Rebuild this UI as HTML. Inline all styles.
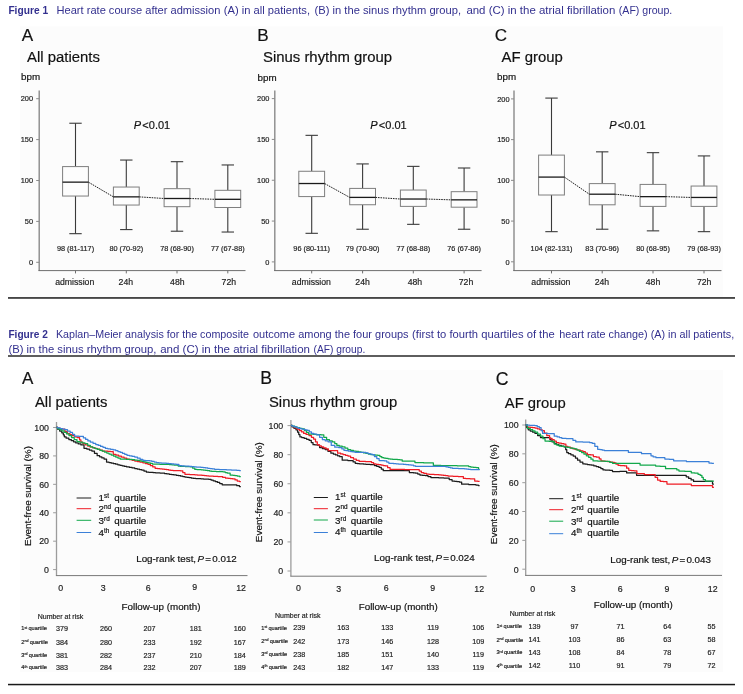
<!DOCTYPE html>
<html><head><meta charset="utf-8"><title>Figure</title>
<style>html,body{margin:0;padding:0;background:#fff;}body{width:743px;height:694px;overflow:hidden;font-family:'Liberation Sans', sans-serif;}svg{display:block;}text{font-family:'Liberation Sans', sans-serif;}</style>
</head><body>
<svg width="743" height="694" viewBox="0 0 743 694">
<defs><filter id="soft" x="0" y="0" width="743" height="694" filterUnits="userSpaceOnUse" color-interpolation-filters="sRGB"><feGaussianBlur stdDeviation="0.3"/></filter></defs>
<rect x="0" y="0" width="743" height="694" fill="#ffffff"/>
<g filter="url(#soft)">
<rect x="20" y="26.5" width="703" height="270.5" fill="#fcfcfc"/>
<rect x="20" y="370" width="703" height="302" fill="#fcfcfc"/>
<text x="8.4" y="13.6" font-size="10.6" fill="#33308f" font-weight="bold" textLength="39.7" lengthAdjust="spacingAndGlyphs">Figure 1</text>
<text x="56.5" y="13.6" font-size="10.6" fill="#33308f" textLength="163.9" lengthAdjust="spacingAndGlyphs">Heart rate course after admission</text>
<text x="223.8" y="13.6" font-size="10.6" fill="#33308f" textLength="86.2" lengthAdjust="spacingAndGlyphs">(A) in all patients,</text>
<text x="314.5" y="13.6" font-size="10.6" fill="#33308f" textLength="146.6" lengthAdjust="spacingAndGlyphs">(B) in the sinus rhythm group,</text>
<text x="466.4" y="13.6" font-size="10.6" fill="#33308f" textLength="148.9" lengthAdjust="spacingAndGlyphs">and (C) in the atrial fibrillation</text>
<text x="618.8" y="13.6" font-size="10.6" fill="#33308f" textLength="53.5" lengthAdjust="spacingAndGlyphs">(AF) group.</text>
<text x="8.4" y="337.8" font-size="10.6" fill="#33308f" font-weight="bold" textLength="39.4" lengthAdjust="spacingAndGlyphs">Figure 2</text>
<text x="55.9" y="337.8" font-size="10.6" fill="#33308f" textLength="193.1" lengthAdjust="spacingAndGlyphs">Kaplan–Meier analysis for the composite</text>
<text x="253" y="337.8" font-size="10.6" fill="#33308f" textLength="155.6" lengthAdjust="spacingAndGlyphs">outcome among the four groups</text>
<text x="412.1" y="337.8" font-size="10.6" fill="#33308f" textLength="142.6" lengthAdjust="spacingAndGlyphs">(first to fourth quartiles of the</text>
<text x="559.3" y="337.8" font-size="10.6" fill="#33308f" textLength="174.9" lengthAdjust="spacingAndGlyphs">heart rate change) (A) in all patients,</text>
<text x="8.4" y="353.2" font-size="10.6" fill="#33308f" textLength="148.1" lengthAdjust="spacingAndGlyphs">(B) in the sinus rhythm group,</text>
<text x="160.2" y="353.2" font-size="10.6" fill="#33308f" textLength="149.8" lengthAdjust="spacingAndGlyphs">and (C) in the atrial fibrillation</text>
<text x="313.5" y="353.2" font-size="10.6" fill="#33308f" textLength="51.8" lengthAdjust="spacingAndGlyphs">(AF) group.</text>
<rect x="8" y="297.2" width="727" height="1.5" fill="#1a1a1a"/>
<rect x="8" y="355.3" width="727" height="1.4" fill="#1a1a1a"/>
<rect x="8" y="683.8" width="727" height="1.5" fill="#1a1a1a"/>
<text x="21.7" y="41.4" font-size="17.1" text-anchor="start" fill="#111" stroke="#111" stroke-width="0.18" >A</text>
<text x="27" y="61.8" font-size="14.9" text-anchor="start" fill="#111" stroke="#111" stroke-width="0.18" >All patients</text>
<text x="21" y="79.8" font-size="9.8" text-anchor="start" fill="#111" stroke="#111" stroke-width="0.18" >bpm</text>
<line x1="39.2" y1="90.5" x2="39.2" y2="271" stroke="#8a8a8a" stroke-width="1.4"/>
<line x1="38.5" y1="270.6" x2="245.5" y2="270.6" stroke="#6e6e6e" stroke-width="1"/>
<line x1="36.2" y1="262.3" x2="39.2" y2="262.3" stroke="#8a8a8a" stroke-width="1"/>
<text x="33" y="265.0" font-size="7.4" text-anchor="end" fill="#222" stroke="#222" stroke-width="0.18" >0</text>
<line x1="36.2" y1="221.4" x2="39.2" y2="221.4" stroke="#8a8a8a" stroke-width="1"/>
<text x="33" y="224.1" font-size="7.4" text-anchor="end" fill="#222" stroke="#222" stroke-width="0.18" >50</text>
<line x1="36.2" y1="180.5" x2="39.2" y2="180.5" stroke="#8a8a8a" stroke-width="1"/>
<text x="33" y="183.2" font-size="7.4" text-anchor="end" fill="#222" stroke="#222" stroke-width="0.18" >100</text>
<line x1="36.2" y1="139.6" x2="39.2" y2="139.6" stroke="#8a8a8a" stroke-width="1"/>
<text x="33" y="142.3" font-size="7.4" text-anchor="end" fill="#222" stroke="#222" stroke-width="0.18" >150</text>
<line x1="36.2" y1="98.7" x2="39.2" y2="98.7" stroke="#8a8a8a" stroke-width="1"/>
<text x="33" y="101.4" font-size="7.4" text-anchor="end" fill="#222" stroke="#222" stroke-width="0.18" >200</text>
<line x1="75.5" y1="270.6" x2="75.5" y2="273.4" stroke="#6e6e6e" stroke-width="1"/>
<line x1="75.5" y1="123.24" x2="75.5" y2="166.59" stroke="#3a3a3a" stroke-width="1.1"/>
<line x1="75.5" y1="196.04" x2="75.5" y2="233.67" stroke="#3a3a3a" stroke-width="1.1"/>
<line x1="69.3" y1="123.24" x2="81.7" y2="123.24" stroke="#3a3a3a" stroke-width="1.1"/>
<line x1="69.3" y1="233.67" x2="81.7" y2="233.67" stroke="#3a3a3a" stroke-width="1.1"/>
<rect x="62.6" y="166.59" width="25.8" height="29.45" fill="#fdfdfd" stroke="#7e7e7e" stroke-width="1"/>
<line x1="62.6" y1="182.14" x2="88.4" y2="182.14" stroke="#1a1a1a" stroke-width="1.3"/>
<text x="75.5" y="251" font-size="7.3" text-anchor="middle" fill="#222" stroke="#222" stroke-width="0.18" >98 (81-117)</text>
<text x="74.7" y="284.5" font-size="8.7" text-anchor="middle" fill="#222" stroke="#222" stroke-width="0.18" >admission</text>
<line x1="126.3" y1="270.6" x2="126.3" y2="273.4" stroke="#6e6e6e" stroke-width="1"/>
<line x1="126.3" y1="160.05" x2="126.3" y2="187.04" stroke="#3a3a3a" stroke-width="1.1"/>
<line x1="126.3" y1="205.04" x2="126.3" y2="229.58" stroke="#3a3a3a" stroke-width="1.1"/>
<line x1="120.1" y1="160.05" x2="132.5" y2="160.05" stroke="#3a3a3a" stroke-width="1.1"/>
<line x1="120.1" y1="229.58" x2="132.5" y2="229.58" stroke="#3a3a3a" stroke-width="1.1"/>
<rect x="113.39999999999999" y="187.04" width="25.8" height="18.0" fill="#fdfdfd" stroke="#7e7e7e" stroke-width="1"/>
<line x1="113.39999999999999" y1="196.86" x2="139.2" y2="196.86" stroke="#1a1a1a" stroke-width="1.3"/>
<text x="126.3" y="251" font-size="7.3" text-anchor="middle" fill="#222" stroke="#222" stroke-width="0.18" >80 (70-92)</text>
<text x="125.8" y="284.5" font-size="8.7" text-anchor="middle" fill="#222" stroke="#222" stroke-width="0.18" >24h</text>
<line x1="177.0" y1="270.6" x2="177.0" y2="273.4" stroke="#6e6e6e" stroke-width="1"/>
<line x1="177.0" y1="161.69" x2="177.0" y2="188.68" stroke="#3a3a3a" stroke-width="1.1"/>
<line x1="177.0" y1="206.68" x2="177.0" y2="231.22" stroke="#3a3a3a" stroke-width="1.1"/>
<line x1="170.8" y1="161.69" x2="183.2" y2="161.69" stroke="#3a3a3a" stroke-width="1.1"/>
<line x1="170.8" y1="231.22" x2="183.2" y2="231.22" stroke="#3a3a3a" stroke-width="1.1"/>
<rect x="164.1" y="188.68" width="25.8" height="18.0" fill="#fdfdfd" stroke="#7e7e7e" stroke-width="1"/>
<line x1="164.1" y1="198.5" x2="189.9" y2="198.5" stroke="#1a1a1a" stroke-width="1.3"/>
<text x="177.0" y="251" font-size="7.3" text-anchor="middle" fill="#222" stroke="#222" stroke-width="0.18" >78 (68-90)</text>
<text x="177.3" y="284.5" font-size="8.7" text-anchor="middle" fill="#222" stroke="#222" stroke-width="0.18" >48h</text>
<line x1="227.8" y1="270.6" x2="227.8" y2="273.4" stroke="#6e6e6e" stroke-width="1"/>
<line x1="227.8" y1="164.96" x2="227.8" y2="190.32" stroke="#3a3a3a" stroke-width="1.1"/>
<line x1="227.8" y1="207.49" x2="227.8" y2="232.03" stroke="#3a3a3a" stroke-width="1.1"/>
<line x1="221.60000000000002" y1="164.96" x2="234.0" y2="164.96" stroke="#3a3a3a" stroke-width="1.1"/>
<line x1="221.60000000000002" y1="232.03" x2="234.0" y2="232.03" stroke="#3a3a3a" stroke-width="1.1"/>
<rect x="214.9" y="190.32" width="25.8" height="17.17" fill="#fdfdfd" stroke="#7e7e7e" stroke-width="1"/>
<line x1="214.9" y1="199.31" x2="240.70000000000002" y2="199.31" stroke="#1a1a1a" stroke-width="1.3"/>
<text x="227.8" y="251" font-size="7.3" text-anchor="middle" fill="#222" stroke="#222" stroke-width="0.18" >77 (67-88)</text>
<text x="228.8" y="284.5" font-size="8.7" text-anchor="middle" fill="#222" stroke="#222" stroke-width="0.18" >72h</text>
<line x1="88.4" y1="182.14" x2="113.39999999999999" y2="196.86" stroke="#222" stroke-width="1" stroke-dasharray="1.6 0.9"/>
<line x1="139.2" y1="196.86" x2="164.1" y2="198.5" stroke="#222" stroke-width="1" stroke-dasharray="1.6 0.9"/>
<line x1="189.9" y1="198.5" x2="214.9" y2="199.31" stroke="#222" stroke-width="1" stroke-dasharray="1.6 0.9"/>
<text x="152" y="128.9" font-size="11" text-anchor="middle" fill="#111" stroke="#111" stroke-width="0.18"><tspan font-style="italic">P</tspan><tspan dx="1.2">&lt;0.01</tspan></text>
<text x="257.2" y="41.4" font-size="17.1" text-anchor="start" fill="#111" stroke="#111" stroke-width="0.18" >B</text>
<text x="263" y="61.8" font-size="14.9" text-anchor="start" fill="#111" stroke="#111" stroke-width="0.18" >Sinus rhythm group</text>
<text x="257.5" y="80.5" font-size="9.8" text-anchor="start" fill="#111" stroke="#111" stroke-width="0.18" >bpm</text>
<line x1="274.8" y1="90.5" x2="274.8" y2="271" stroke="#8a8a8a" stroke-width="1.4"/>
<line x1="274.1" y1="270.6" x2="481.6" y2="270.6" stroke="#6e6e6e" stroke-width="1"/>
<line x1="271.8" y1="261.9" x2="274.8" y2="261.9" stroke="#8a8a8a" stroke-width="1"/>
<text x="269.4" y="264.6" font-size="7.4" text-anchor="end" fill="#222" stroke="#222" stroke-width="0.18" >0</text>
<line x1="271.8" y1="221.07" x2="274.8" y2="221.07" stroke="#8a8a8a" stroke-width="1"/>
<text x="269.4" y="223.77" font-size="7.4" text-anchor="end" fill="#222" stroke="#222" stroke-width="0.18" >50</text>
<line x1="271.8" y1="180.25" x2="274.8" y2="180.25" stroke="#8a8a8a" stroke-width="1"/>
<text x="269.4" y="182.95" font-size="7.4" text-anchor="end" fill="#222" stroke="#222" stroke-width="0.18" >100</text>
<line x1="271.8" y1="139.42" x2="274.8" y2="139.42" stroke="#8a8a8a" stroke-width="1"/>
<text x="269.4" y="142.12" font-size="7.4" text-anchor="end" fill="#222" stroke="#222" stroke-width="0.18" >150</text>
<line x1="271.8" y1="98.6" x2="274.8" y2="98.6" stroke="#8a8a8a" stroke-width="1"/>
<text x="269.4" y="101.3" font-size="7.4" text-anchor="end" fill="#222" stroke="#222" stroke-width="0.18" >200</text>
<line x1="311.7" y1="270.6" x2="311.7" y2="273.4" stroke="#6e6e6e" stroke-width="1"/>
<line x1="311.7" y1="135.34" x2="311.7" y2="171.27" stroke="#3a3a3a" stroke-width="1.1"/>
<line x1="311.7" y1="196.58" x2="311.7" y2="233.32" stroke="#3a3a3a" stroke-width="1.1"/>
<line x1="305.5" y1="135.34" x2="317.9" y2="135.34" stroke="#3a3a3a" stroke-width="1.1"/>
<line x1="305.5" y1="233.32" x2="317.9" y2="233.32" stroke="#3a3a3a" stroke-width="1.1"/>
<rect x="298.8" y="171.27" width="25.8" height="25.31" fill="#fdfdfd" stroke="#7e7e7e" stroke-width="1"/>
<line x1="298.8" y1="183.52" x2="324.59999999999997" y2="183.52" stroke="#1a1a1a" stroke-width="1.3"/>
<text x="311.7" y="251" font-size="7.3" text-anchor="middle" fill="#222" stroke="#222" stroke-width="0.18" >96 (80-111)</text>
<text x="311.4" y="284.5" font-size="8.7" text-anchor="middle" fill="#222" stroke="#222" stroke-width="0.18" >admission</text>
<line x1="362.6" y1="270.6" x2="362.6" y2="273.4" stroke="#6e6e6e" stroke-width="1"/>
<line x1="362.6" y1="163.92" x2="362.6" y2="188.41" stroke="#3a3a3a" stroke-width="1.1"/>
<line x1="362.6" y1="204.74" x2="362.6" y2="229.24" stroke="#3a3a3a" stroke-width="1.1"/>
<line x1="356.40000000000003" y1="163.92" x2="368.8" y2="163.92" stroke="#3a3a3a" stroke-width="1.1"/>
<line x1="356.40000000000003" y1="229.24" x2="368.8" y2="229.24" stroke="#3a3a3a" stroke-width="1.1"/>
<rect x="349.70000000000005" y="188.41" width="25.8" height="16.33" fill="#fdfdfd" stroke="#7e7e7e" stroke-width="1"/>
<line x1="349.70000000000005" y1="197.4" x2="375.5" y2="197.4" stroke="#1a1a1a" stroke-width="1.3"/>
<text x="362.6" y="251" font-size="7.3" text-anchor="middle" fill="#222" stroke="#222" stroke-width="0.18" >79 (70-90)</text>
<text x="362.6" y="284.5" font-size="8.7" text-anchor="middle" fill="#222" stroke="#222" stroke-width="0.18" >24h</text>
<line x1="413.3" y1="270.6" x2="413.3" y2="273.4" stroke="#6e6e6e" stroke-width="1"/>
<line x1="413.3" y1="166.37" x2="413.3" y2="190.05" stroke="#3a3a3a" stroke-width="1.1"/>
<line x1="413.3" y1="206.38" x2="413.3" y2="224.34" stroke="#3a3a3a" stroke-width="1.1"/>
<line x1="407.1" y1="166.37" x2="419.5" y2="166.37" stroke="#3a3a3a" stroke-width="1.1"/>
<line x1="407.1" y1="224.34" x2="419.5" y2="224.34" stroke="#3a3a3a" stroke-width="1.1"/>
<rect x="400.40000000000003" y="190.05" width="25.8" height="16.33" fill="#fdfdfd" stroke="#7e7e7e" stroke-width="1"/>
<line x1="400.40000000000003" y1="199.03" x2="426.2" y2="199.03" stroke="#1a1a1a" stroke-width="1.3"/>
<text x="413.3" y="251" font-size="7.3" text-anchor="middle" fill="#222" stroke="#222" stroke-width="0.18" >77 (68-88)</text>
<text x="414.9" y="284.5" font-size="8.7" text-anchor="middle" fill="#222" stroke="#222" stroke-width="0.18" >48h</text>
<line x1="464.1" y1="270.6" x2="464.1" y2="273.4" stroke="#6e6e6e" stroke-width="1"/>
<line x1="464.1" y1="168.0" x2="464.1" y2="191.68" stroke="#3a3a3a" stroke-width="1.1"/>
<line x1="464.1" y1="207.19" x2="464.1" y2="229.24" stroke="#3a3a3a" stroke-width="1.1"/>
<line x1="457.90000000000003" y1="168.0" x2="470.3" y2="168.0" stroke="#3a3a3a" stroke-width="1.1"/>
<line x1="457.90000000000003" y1="229.24" x2="470.3" y2="229.24" stroke="#3a3a3a" stroke-width="1.1"/>
<rect x="451.20000000000005" y="191.68" width="25.8" height="15.51" fill="#fdfdfd" stroke="#7e7e7e" stroke-width="1"/>
<line x1="451.20000000000005" y1="199.85" x2="477.0" y2="199.85" stroke="#1a1a1a" stroke-width="1.3"/>
<text x="464.1" y="251" font-size="7.3" text-anchor="middle" fill="#222" stroke="#222" stroke-width="0.18" >76 (67-86)</text>
<text x="466.0" y="284.5" font-size="8.7" text-anchor="middle" fill="#222" stroke="#222" stroke-width="0.18" >72h</text>
<line x1="324.59999999999997" y1="183.52" x2="349.70000000000005" y2="197.4" stroke="#222" stroke-width="1" stroke-dasharray="1.6 0.9"/>
<line x1="375.5" y1="197.4" x2="400.40000000000003" y2="199.03" stroke="#222" stroke-width="1" stroke-dasharray="1.6 0.9"/>
<line x1="426.2" y1="199.03" x2="451.20000000000005" y2="199.85" stroke="#222" stroke-width="1" stroke-dasharray="1.6 0.9"/>
<text x="388.5" y="128.9" font-size="11" text-anchor="middle" fill="#111" stroke="#111" stroke-width="0.18"><tspan font-style="italic">P</tspan><tspan dx="1.2">&lt;0.01</tspan></text>
<text x="494.7" y="41.4" font-size="17.1" text-anchor="start" fill="#111" stroke="#111" stroke-width="0.18" >C</text>
<text x="501.5" y="61.8" font-size="14.9" text-anchor="start" fill="#111" stroke="#111" stroke-width="0.18" >AF group</text>
<text x="497" y="80.4" font-size="9.8" text-anchor="start" fill="#111" stroke="#111" stroke-width="0.18" >bpm</text>
<line x1="514" y1="90.5" x2="514" y2="271" stroke="#8a8a8a" stroke-width="1.4"/>
<line x1="513.3" y1="270.6" x2="721.5" y2="270.6" stroke="#6e6e6e" stroke-width="1"/>
<line x1="511" y1="261.8" x2="514" y2="261.8" stroke="#8a8a8a" stroke-width="1"/>
<text x="509.5" y="264.5" font-size="7.4" text-anchor="end" fill="#222" stroke="#222" stroke-width="0.18" >0</text>
<line x1="511" y1="221.08" x2="514" y2="221.08" stroke="#8a8a8a" stroke-width="1"/>
<text x="509.5" y="223.78" font-size="7.4" text-anchor="end" fill="#222" stroke="#222" stroke-width="0.18" >50</text>
<line x1="511" y1="180.35" x2="514" y2="180.35" stroke="#8a8a8a" stroke-width="1"/>
<text x="509.5" y="183.05" font-size="7.4" text-anchor="end" fill="#222" stroke="#222" stroke-width="0.18" >100</text>
<line x1="511" y1="139.62" x2="514" y2="139.62" stroke="#8a8a8a" stroke-width="1"/>
<text x="509.5" y="142.32" font-size="7.4" text-anchor="end" fill="#222" stroke="#222" stroke-width="0.18" >150</text>
<line x1="511" y1="98.9" x2="514" y2="98.9" stroke="#8a8a8a" stroke-width="1"/>
<text x="509.5" y="101.6" font-size="7.4" text-anchor="end" fill="#222" stroke="#222" stroke-width="0.18" >200</text>
<line x1="551.5" y1="270.6" x2="551.5" y2="273.4" stroke="#6e6e6e" stroke-width="1"/>
<line x1="551.5" y1="98.09" x2="551.5" y2="155.1" stroke="#3a3a3a" stroke-width="1.1"/>
<line x1="551.5" y1="195.01" x2="551.5" y2="231.66" stroke="#3a3a3a" stroke-width="1.1"/>
<line x1="545.3" y1="98.09" x2="557.7" y2="98.09" stroke="#3a3a3a" stroke-width="1.1"/>
<line x1="545.3" y1="231.66" x2="557.7" y2="231.66" stroke="#3a3a3a" stroke-width="1.1"/>
<rect x="538.6" y="155.1" width="25.8" height="39.91" fill="#fdfdfd" stroke="#7e7e7e" stroke-width="1"/>
<line x1="538.6" y1="177.09" x2="564.4" y2="177.09" stroke="#1a1a1a" stroke-width="1.3"/>
<text x="551.5" y="251" font-size="7.3" text-anchor="middle" fill="#222" stroke="#222" stroke-width="0.18" >104 (82-131)</text>
<text x="550.9" y="284.5" font-size="8.7" text-anchor="middle" fill="#222" stroke="#222" stroke-width="0.18" >admission</text>
<line x1="602.2" y1="270.6" x2="602.2" y2="273.4" stroke="#6e6e6e" stroke-width="1"/>
<line x1="602.2" y1="151.84" x2="602.2" y2="183.61" stroke="#3a3a3a" stroke-width="1.1"/>
<line x1="602.2" y1="204.79" x2="602.2" y2="229.22" stroke="#3a3a3a" stroke-width="1.1"/>
<line x1="596.0" y1="151.84" x2="608.4000000000001" y2="151.84" stroke="#3a3a3a" stroke-width="1.1"/>
<line x1="596.0" y1="229.22" x2="608.4000000000001" y2="229.22" stroke="#3a3a3a" stroke-width="1.1"/>
<rect x="589.3000000000001" y="183.61" width="25.8" height="21.18" fill="#fdfdfd" stroke="#7e7e7e" stroke-width="1"/>
<line x1="589.3000000000001" y1="194.2" x2="615.1" y2="194.2" stroke="#1a1a1a" stroke-width="1.3"/>
<text x="602.2" y="251" font-size="7.3" text-anchor="middle" fill="#222" stroke="#222" stroke-width="0.18" >83 (70-96)</text>
<text x="601.9" y="284.5" font-size="8.7" text-anchor="middle" fill="#222" stroke="#222" stroke-width="0.18" >24h</text>
<line x1="653.0" y1="270.6" x2="653.0" y2="273.4" stroke="#6e6e6e" stroke-width="1"/>
<line x1="653.0" y1="152.66" x2="653.0" y2="184.42" stroke="#3a3a3a" stroke-width="1.1"/>
<line x1="653.0" y1="206.41" x2="653.0" y2="230.85" stroke="#3a3a3a" stroke-width="1.1"/>
<line x1="646.8" y1="152.66" x2="659.2" y2="152.66" stroke="#3a3a3a" stroke-width="1.1"/>
<line x1="646.8" y1="230.85" x2="659.2" y2="230.85" stroke="#3a3a3a" stroke-width="1.1"/>
<rect x="640.1" y="184.42" width="25.8" height="21.99" fill="#fdfdfd" stroke="#7e7e7e" stroke-width="1"/>
<line x1="640.1" y1="196.64" x2="665.9" y2="196.64" stroke="#1a1a1a" stroke-width="1.3"/>
<text x="653.0" y="251" font-size="7.3" text-anchor="middle" fill="#222" stroke="#222" stroke-width="0.18" >80 (68-95)</text>
<text x="653.0" y="284.5" font-size="8.7" text-anchor="middle" fill="#222" stroke="#222" stroke-width="0.18" >48h</text>
<line x1="704.0" y1="270.6" x2="704.0" y2="273.4" stroke="#6e6e6e" stroke-width="1"/>
<line x1="704.0" y1="155.92" x2="704.0" y2="186.05" stroke="#3a3a3a" stroke-width="1.1"/>
<line x1="704.0" y1="206.41" x2="704.0" y2="231.66" stroke="#3a3a3a" stroke-width="1.1"/>
<line x1="697.8" y1="155.92" x2="710.2" y2="155.92" stroke="#3a3a3a" stroke-width="1.1"/>
<line x1="697.8" y1="231.66" x2="710.2" y2="231.66" stroke="#3a3a3a" stroke-width="1.1"/>
<rect x="691.1" y="186.05" width="25.8" height="20.36" fill="#fdfdfd" stroke="#7e7e7e" stroke-width="1"/>
<line x1="691.1" y1="197.45" x2="716.9" y2="197.45" stroke="#1a1a1a" stroke-width="1.3"/>
<text x="704.0" y="251" font-size="7.3" text-anchor="middle" fill="#222" stroke="#222" stroke-width="0.18" >79 (68-93)</text>
<text x="704.2" y="284.5" font-size="8.7" text-anchor="middle" fill="#222" stroke="#222" stroke-width="0.18" >72h</text>
<line x1="564.4" y1="177.09" x2="589.3000000000001" y2="194.2" stroke="#222" stroke-width="1" stroke-dasharray="1.6 0.9"/>
<line x1="615.1" y1="194.2" x2="640.1" y2="196.64" stroke="#222" stroke-width="1" stroke-dasharray="1.6 0.9"/>
<line x1="665.9" y1="196.64" x2="691.1" y2="197.45" stroke="#222" stroke-width="1" stroke-dasharray="1.6 0.9"/>
<text x="627.4" y="128.9" font-size="11" text-anchor="middle" fill="#111" stroke="#111" stroke-width="0.18"><tspan font-style="italic">P</tspan><tspan dx="1.2">&lt;0.01</tspan></text>
<text x="22" y="384.2" font-size="17" text-anchor="start" fill="#111" stroke="#111" stroke-width="0.18" >A</text>
<text x="35" y="406.8" font-size="14.8" text-anchor="start" fill="#111" stroke="#111" stroke-width="0.18" >All patients</text>
<line x1="56.5" y1="422.0" x2="56.5" y2="575.6" stroke="#9c9c9c" stroke-width="1.3"/>
<line x1="55.9" y1="575.6" x2="247.5" y2="575.6" stroke="#787878" stroke-width="1"/>
<line x1="53.1" y1="427.5" x2="56.5" y2="427.5" stroke="#9c9c9c" stroke-width="1"/>
<text x="49" y="430.8" font-size="8.8" text-anchor="end" fill="#222" stroke="#222" stroke-width="0.18" >100</text>
<line x1="53.1" y1="455.92" x2="56.5" y2="455.92" stroke="#9c9c9c" stroke-width="1"/>
<text x="49" y="459.22" font-size="8.8" text-anchor="end" fill="#222" stroke="#222" stroke-width="0.18" >80</text>
<line x1="53.1" y1="484.34" x2="56.5" y2="484.34" stroke="#9c9c9c" stroke-width="1"/>
<text x="49" y="487.64" font-size="8.8" text-anchor="end" fill="#222" stroke="#222" stroke-width="0.18" >60</text>
<line x1="53.1" y1="512.76" x2="56.5" y2="512.76" stroke="#9c9c9c" stroke-width="1"/>
<text x="49" y="516.06" font-size="8.8" text-anchor="end" fill="#222" stroke="#222" stroke-width="0.18" >40</text>
<line x1="53.1" y1="541.18" x2="56.5" y2="541.18" stroke="#9c9c9c" stroke-width="1"/>
<text x="49" y="544.48" font-size="8.8" text-anchor="end" fill="#222" stroke="#222" stroke-width="0.18" >20</text>
<line x1="53.1" y1="569.6" x2="56.5" y2="569.6" stroke="#9c9c9c" stroke-width="1"/>
<text x="49" y="572.9" font-size="8.8" text-anchor="end" fill="#222" stroke="#222" stroke-width="0.18" >0</text>
<text transform="translate(30.5,496) rotate(-90)" font-size="9.9" text-anchor="middle" fill="#111" stroke="#111" stroke-width="0.18">Event-free survival (%)</text>
<path d="M56.5,427.4 L57.55,427.4 L57.55,429.2 L58.6,429.2 L59.65,429.2 L59.65,431.0 L60.7,431.0 L61.75,431.0 L61.75,432.8 L62.8,432.8 L63.3,432.8 L63.3,434.8 L63.8,434.8 L64.3,434.8 L64.3,436.8 L64.8,436.8 L66.15,436.8 L66.15,438.15 L67.5,438.15 L68.85,438.15 L68.85,439.5 L70.2,439.5 L71.32,439.5 L71.32,440.63 L72.43,440.63 L73.55,440.63 L73.55,441.77 L74.67,441.77 L75.78,441.77 L75.78,442.9 L76.9,442.9 L78.25,442.9 L78.25,443.9 L79.6,443.9 L80.95,443.9 L80.95,444.9 L82.3,444.9 L84.0,444.9 L84.0,448.3 L85.7,448.3 L86.93,448.3 L86.93,449.2 L88.17,449.2 L89.4,449.2 L89.4,450.1 L90.63,450.1 L91.87,450.1 L91.87,451.0 L93.1,451.0 L94.45,451.0 L94.45,453.35 L95.8,453.35 L97.15,453.35 L97.15,455.7 L98.5,455.7 L99.62,455.7 L99.62,456.8 L100.73,456.8 L101.85,456.8 L101.85,457.9 L102.97,457.9 L104.08,457.9 L104.08,459.0 L105.2,459.0 L106.55,459.0 L106.55,462.0 L107.9,462.0 L109.02,462.0 L109.02,462.57 L110.13,462.57 L111.25,462.57 L111.25,463.13 L112.37,463.13 L113.48,463.13 L113.48,463.7 L114.6,463.7 L115.68,463.7 L115.68,464.24 L116.76,464.24 L117.84,464.24 L117.84,464.78 L118.92,464.78 L120.0,464.78 L120.0,465.32 L121.08,465.32 L122.16,465.32 L122.16,465.86 L123.24,465.86 L124.32,465.86 L124.32,466.4 L125.4,466.4 L126.74,466.4 L126.74,466.92 L128.07,466.92 L129.41,466.92 L129.41,467.45 L130.75,467.45 L132.09,467.45 L132.09,467.98 L133.43,467.98 L134.76,467.98 L134.76,468.5 L136.1,468.5 L137.23,468.5 L137.23,469.03 L138.37,469.03 L139.5,469.03 L139.5,469.57 L140.63,469.57 L141.77,469.57 L141.77,470.1 L142.9,470.1 L144.07,470.1 L144.07,471.15 L145.25,471.15 L146.43,471.15 L146.43,472.2 L147.6,472.2 L148.73,472.2 L148.73,472.34 L149.86,472.34 L150.99,472.34 L150.99,472.49 L152.11,472.49 L153.24,472.49 L153.24,472.63 L154.37,472.63 L155.5,472.63 L155.5,472.77 L156.63,472.77 L157.76,472.77 L157.76,472.91 L158.89,472.91 L160.01,472.91 L160.01,473.06 L161.14,473.06 L162.27,473.06 L162.27,473.2 L163.4,473.2 L164.57,473.2 L164.57,473.55 L165.75,473.55 L166.92,473.55 L166.92,473.9 L168.1,473.9 L169.27,473.9 L169.27,474.25 L170.45,474.25 L171.62,474.25 L171.62,474.6 L172.8,474.6 L173.97,474.6 L173.97,474.95 L175.15,474.95 L176.32,474.95 L176.32,475.3 L177.5,475.3 L178.56,475.3 L178.56,475.73 L179.62,475.73 L180.69,475.73 L180.69,476.15 L181.75,476.15 L182.81,476.15 L182.81,476.57 L183.88,476.57 L184.94,476.57 L184.94,477.0 L186.0,477.0 L187.06,477.0 L187.06,477.35 L188.12,477.35 L189.19,477.35 L189.19,477.7 L190.25,477.7 L191.31,477.7 L191.31,478.05 L192.38,478.05 L193.44,478.05 L193.44,478.4 L194.5,478.4 L195.79,478.4 L195.79,478.55 L197.08,478.55 L198.38,478.55 L198.38,478.7 L199.67,478.7 L200.96,478.7 L200.96,478.85 L202.25,478.85 L203.54,478.85 L203.54,479.0 L204.83,479.0 L206.12,479.0 L206.12,479.15 L207.42,479.15 L208.71,479.15 L208.71,479.3 L210.0,479.3 L211.06,479.3 L211.06,480.07 L212.12,480.07 L213.19,480.07 L213.19,480.85 L214.25,480.85 L215.31,480.85 L215.31,481.62 L216.38,481.62 L217.44,481.62 L217.44,482.4 L218.5,482.4 L219.72,482.4 L219.72,483.6 L220.95,483.6 L222.18,483.6 L222.18,484.8 L223.4,484.8 L229.4,484.8 L229.4,484.8 L235.4,484.8 L236.75,484.8 L236.75,485.7 L238.1,485.7 L239.45,485.7 L239.45,486.6 L240.8,486.6" fill="none" stroke="#1c1c1c" stroke-width="1.25" stroke-linejoin="round"/>
<path d="M56.5,427.4 L57.67,427.4 L57.67,428.0 L58.83,428.0 L60.0,428.0 L60.0,428.6 L61.17,428.6 L62.33,428.6 L62.33,429.2 L63.5,429.2 L64.83,429.2 L64.83,431.35 L66.15,431.35 L67.47,431.35 L67.47,433.5 L68.8,433.5 L69.93,433.5 L69.93,434.6 L71.07,434.6 L72.2,434.6 L72.2,435.7 L73.33,435.7 L74.47,435.7 L74.47,436.8 L75.6,436.8 L77.25,436.8 L77.25,437.5 L78.9,437.5 L79.58,437.5 L79.58,439.85 L80.25,439.85 L80.92,439.85 L80.92,442.2 L81.6,442.2 L82.83,442.2 L82.83,443.53 L84.07,443.53 L85.3,443.53 L85.3,444.87 L86.53,444.87 L87.77,444.87 L87.77,446.2 L89.0,446.2 L90.13,446.2 L90.13,446.9 L91.27,446.9 L92.4,446.9 L92.4,447.6 L93.53,447.6 L94.67,447.6 L94.67,448.3 L95.8,448.3 L97.13,448.3 L97.13,449.2 L98.47,449.2 L99.8,449.2 L99.8,450.1 L101.13,450.1 L102.47,450.1 L102.47,451.0 L103.8,451.0 L105.15,451.0 L105.15,451.2 L106.5,451.2 L107.85,451.2 L107.85,451.4 L109.2,451.4 L110.55,451.4 L110.55,451.6 L111.9,451.6 L113.25,451.6 L113.25,454.3 L114.6,454.3 L115.95,454.3 L115.95,455.2 L117.3,455.2 L118.65,455.2 L118.65,456.1 L120.0,456.1 L121.35,456.1 L121.35,457.0 L122.7,457.0 L124.05,457.0 L124.05,458.0 L125.4,458.0 L126.75,458.0 L126.75,459.0 L128.1,459.0 L129.43,459.0 L129.43,459.67 L130.77,459.67 L132.1,459.67 L132.1,460.33 L133.43,460.33 L134.77,460.33 L134.77,461.0 L136.1,461.0 L137.45,461.0 L137.45,461.6 L138.8,461.6 L140.15,461.6 L140.15,462.2 L141.5,462.2 L142.85,462.2 L142.85,462.8 L144.2,462.8 L145.45,462.8 L145.45,463.55 L146.7,463.55 L147.95,463.55 L147.95,464.3 L149.2,464.3 L150.38,464.3 L150.38,465.63 L151.57,465.63 L152.75,465.63 L152.75,466.97 L153.93,466.97 L155.12,466.97 L155.12,468.3 L156.3,468.3 L157.48,468.3 L157.48,468.53 L158.67,468.53 L159.85,468.53 L159.85,468.77 L161.03,468.77 L162.22,468.77 L162.22,469.0 L163.4,469.0 L164.46,469.0 L164.46,469.35 L165.53,469.35 L166.59,469.35 L166.59,469.7 L167.65,469.7 L168.71,469.7 L168.71,470.05 L169.78,470.05 L170.84,470.05 L170.84,470.4 L171.9,470.4 L173.12,470.4 L173.12,470.5 L174.35,470.5 L175.58,470.5 L175.58,470.6 L176.8,470.6 L178.03,470.6 L178.03,470.7 L179.25,470.7 L180.47,470.7 L180.47,470.8 L181.7,470.8 L182.77,470.8 L182.77,472.55 L183.85,472.55 L184.93,472.55 L184.93,474.3 L186.0,474.3 L187.27,474.3 L187.27,474.44 L188.54,474.44 L189.81,474.44 L189.81,474.58 L191.08,474.58 L192.35,474.58 L192.35,474.72 L193.62,474.72 L194.89,474.72 L194.89,474.86 L196.16,474.86 L197.43,474.86 L197.43,475.0 L198.7,475.0 L199.83,475.0 L199.83,475.2 L200.96,475.2 L202.09,475.2 L202.09,475.4 L203.22,475.4 L204.35,475.4 L204.35,475.6 L205.48,475.6 L206.61,475.6 L206.61,475.8 L207.74,475.8 L208.87,475.8 L208.87,476.0 L210.0,476.0 L211.13,476.0 L211.13,476.14 L212.26,476.14 L213.39,476.14 L213.39,476.28 L214.52,476.28 L215.65,476.28 L215.65,476.42 L216.78,476.42 L217.91,476.42 L217.91,476.56 L219.04,476.56 L220.17,476.56 L220.17,476.7 L221.3,476.7 L222.73,476.7 L222.73,477.45 L224.15,477.45 L225.57,477.45 L225.57,478.2 L227.0,478.2 L228.17,478.2 L228.17,478.43 L229.33,478.43 L230.5,478.43 L230.5,478.67 L231.67,478.67 L232.83,478.67 L232.83,478.9 L234.0,478.9 L235.07,478.9 L235.07,479.95 L236.15,479.95 L237.23,479.95 L237.23,481.0 L238.3,481.0 L239.55,481.0 L239.55,481.5 L240.8,481.5" fill="none" stroke="#ee1c25" stroke-width="1.25" stroke-linejoin="round"/>
<path d="M56.5,427.4 L57.55,427.4 L57.55,428.53 L58.6,428.53 L59.65,428.53 L59.65,429.67 L60.7,429.67 L61.75,429.67 L61.75,430.8 L62.8,430.8 L64.03,430.8 L64.03,432.37 L65.27,432.37 L66.5,432.37 L66.5,433.93 L67.73,433.93 L68.97,433.93 L68.97,435.5 L70.2,435.5 L71.55,435.5 L71.55,437.5 L72.9,437.5 L74.25,437.5 L74.25,439.5 L75.6,439.5 L76.95,439.5 L76.95,441.5 L78.3,441.5 L79.63,441.5 L79.63,442.2 L80.97,442.2 L82.3,442.2 L82.3,442.9 L83.63,442.9 L84.97,442.9 L84.97,443.6 L86.3,443.6 L87.65,443.6 L87.65,445.25 L89.0,445.25 L90.35,445.25 L90.35,446.9 L91.7,446.9 L92.88,446.9 L92.88,447.75 L94.05,447.75 L95.23,447.75 L95.23,448.6 L96.4,448.6 L97.58,448.6 L97.58,449.45 L98.75,449.45 L99.92,449.45 L99.92,450.3 L101.1,450.3 L102.23,450.3 L102.23,451.2 L103.37,451.2 L104.5,451.2 L104.5,452.1 L105.63,452.1 L106.77,452.1 L106.77,453.0 L107.9,453.0 L109.02,453.0 L109.02,454.03 L110.13,454.03 L111.25,454.03 L111.25,455.07 L112.37,455.07 L113.48,455.07 L113.48,456.1 L114.6,456.1 L115.72,456.1 L115.72,457.07 L116.83,457.07 L117.95,457.07 L117.95,458.03 L119.07,458.03 L120.18,458.03 L120.18,459.0 L121.3,459.0 L126.05,459.0 L126.05,459.3 L130.8,459.3 L132.13,459.3 L132.13,459.67 L133.47,459.67 L134.8,459.67 L134.8,460.03 L136.13,460.03 L137.47,460.03 L137.47,460.4 L138.8,460.4 L139.83,460.4 L139.83,460.9 L140.87,460.9 L141.9,460.9 L141.9,461.4 L142.93,461.4 L143.97,461.4 L143.97,461.9 L145.0,461.9 L146.06,461.9 L146.06,462.42 L147.12,462.42 L148.19,462.42 L148.19,462.95 L149.25,462.95 L150.31,462.95 L150.31,463.48 L151.38,463.48 L152.44,463.48 L152.44,464.0 L153.5,464.0 L159.85,464.0 L159.85,464.3 L166.2,464.3 L167.33,464.3 L167.33,464.48 L168.46,464.48 L169.59,464.48 L169.59,464.66 L170.72,464.66 L171.85,464.66 L171.85,464.84 L172.98,464.84 L174.11,464.84 L174.11,465.02 L175.24,465.02 L176.37,465.02 L176.37,465.2 L177.5,465.2 L178.2,465.2 L178.2,466.1 L178.9,466.1 L180.17,466.1 L180.17,466.26 L181.44,466.26 L182.71,466.26 L182.71,466.42 L183.98,466.42 L185.25,466.42 L185.25,466.58 L186.52,466.58 L187.79,466.58 L187.79,466.74 L189.06,466.74 L190.33,466.74 L190.33,466.9 L191.6,466.9 L192.68,466.9 L192.68,468.15 L193.75,468.15 L194.82,468.15 L194.82,469.4 L195.9,469.4 L196.96,469.4 L196.96,469.55 L198.03,469.55 L199.09,469.55 L199.09,469.7 L200.15,469.7 L201.21,469.7 L201.21,469.85 L202.28,469.85 L203.34,469.85 L203.34,470.0 L204.4,470.0 L205.45,470.0 L205.45,470.35 L206.5,470.35 L207.55,470.35 L207.55,470.7 L208.6,470.7 L209.65,470.7 L209.65,471.05 L210.7,471.05 L211.75,471.05 L211.75,471.4 L212.8,471.4 L213.93,471.4 L213.93,471.48 L215.06,471.48 L216.19,471.48 L216.19,471.56 L217.32,471.56 L218.45,471.56 L218.45,471.64 L219.58,471.64 L220.71,471.64 L220.71,471.72 L221.84,471.72 L222.97,471.72 L222.97,471.8 L224.1,471.8 L225.18,471.8 L225.18,472.5 L226.25,472.5 L227.32,472.5 L227.32,473.2 L228.4,473.2 L230.15,473.2 L230.15,475.0 L231.9,475.0 L232.97,475.0 L232.97,475.33 L234.03,475.33 L235.1,475.33 L235.1,475.67 L236.17,475.67 L237.23,475.67 L237.23,476.0 L238.3,476.0 L239.55,476.0 L239.55,476.7 L240.8,476.7" fill="none" stroke="#12a84b" stroke-width="1.25" stroke-linejoin="round"/>
<path d="M56.5,427.4 L57.71,427.4 L57.71,427.97 L58.92,427.97 L60.14,427.97 L60.14,428.55 L61.35,428.55 L62.56,428.55 L62.56,429.12 L63.78,429.12 L64.99,429.12 L64.99,429.7 L66.2,429.7 L67.52,429.7 L67.52,431.05 L68.85,431.05 L70.17,431.05 L70.17,432.4 L71.5,432.4 L72.53,432.4 L72.53,434.3 L73.55,434.3 L74.57,434.3 L74.57,436.2 L75.6,436.2 L78.95,436.2 L78.95,436.4 L82.3,436.4 L83.42,436.4 L83.42,437.9 L84.53,437.9 L85.65,437.9 L85.65,439.4 L86.77,439.4 L87.88,439.4 L87.88,440.9 L89.0,440.9 L90.35,440.9 L90.35,442.1 L91.7,442.1 L93.05,442.1 L93.05,443.3 L94.4,443.3 L95.75,443.3 L95.75,444.5 L97.1,444.5 L98.27,444.5 L98.27,445.45 L99.45,445.45 L100.62,445.45 L100.62,446.4 L101.8,446.4 L102.98,446.4 L102.98,447.35 L104.15,447.35 L105.33,447.35 L105.33,448.3 L106.5,448.3 L107.85,448.3 L107.85,448.83 L109.2,448.83 L110.55,448.83 L110.55,449.37 L111.9,449.37 L113.25,449.37 L113.25,449.9 L114.6,449.9 L115.72,449.9 L115.72,450.7 L116.83,450.7 L117.95,450.7 L117.95,451.5 L119.07,451.5 L120.18,451.5 L120.18,452.3 L121.3,452.3 L122.43,452.3 L122.43,453.3 L123.57,453.3 L124.7,453.3 L124.7,454.3 L125.83,454.3 L126.97,454.3 L126.97,455.3 L128.1,455.3 L129.43,455.3 L129.43,455.87 L130.77,455.87 L132.1,455.87 L132.1,456.43 L133.43,456.43 L134.77,456.43 L134.77,457.0 L136.1,457.0 L137.45,457.0 L137.45,458.13 L138.8,458.13 L140.15,458.13 L140.15,459.27 L141.5,459.27 L142.85,459.27 L142.85,460.4 L144.2,460.4 L145.28,460.4 L145.28,460.57 L146.37,460.57 L147.45,460.57 L147.45,460.73 L148.53,460.73 L149.62,460.73 L149.62,460.9 L150.7,460.9 L151.87,460.9 L151.87,461.47 L153.03,461.47 L154.2,461.47 L154.2,462.03 L155.37,462.03 L156.53,462.03 L156.53,462.6 L157.7,462.6 L158.94,462.6 L158.94,462.81 L160.17,462.81 L161.41,462.81 L161.41,463.03 L162.65,463.03 L163.89,463.03 L163.89,463.24 L165.12,463.24 L166.36,463.24 L166.36,463.45 L167.6,463.45 L168.84,463.45 L168.84,463.66 L170.07,463.66 L171.31,463.66 L171.31,463.88 L172.55,463.88 L173.79,463.88 L173.79,464.09 L175.03,464.09 L176.26,464.09 L176.26,464.3 L177.5,464.3 L178.9,464.3 L178.9,465.7 L180.3,465.7 L181.57,465.7 L181.57,465.88 L182.84,465.88 L184.11,465.88 L184.11,466.06 L185.38,466.06 L186.65,466.06 L186.65,466.24 L187.92,466.24 L189.19,466.24 L189.19,466.42 L190.46,466.42 L191.73,466.42 L191.73,466.6 L193.0,466.6 L194.14,466.6 L194.14,466.8 L195.28,466.8 L196.42,466.8 L196.42,467.0 L197.56,467.0 L198.7,467.0 L198.7,467.2 L199.84,467.2 L200.98,467.2 L200.98,467.4 L202.12,467.4 L203.26,467.4 L203.26,467.6 L204.4,467.6 L205.53,467.6 L205.53,467.94 L206.66,467.94 L207.79,467.94 L207.79,468.28 L208.92,468.28 L210.05,468.28 L210.05,468.62 L211.18,468.62 L212.31,468.62 L212.31,468.96 L213.44,468.96 L214.57,468.96 L214.57,469.3 L215.7,469.3 L216.91,469.3 L216.91,469.4 L218.11,469.4 L219.32,469.4 L219.32,469.5 L220.53,469.5 L221.74,469.5 L221.74,469.6 L222.94,469.6 L224.15,469.6 L224.15,469.7 L225.36,469.7 L226.56,469.7 L226.56,469.8 L227.77,469.8 L228.98,469.8 L228.98,469.9 L230.19,469.9 L231.39,469.9 L231.39,470.0 L232.6,470.0 L233.97,470.0 L233.97,470.17 L235.33,470.17 L236.7,470.17 L236.7,470.33 L238.07,470.33 L239.43,470.33 L239.43,470.5 L240.8,470.5" fill="none" stroke="#3b80d8" stroke-width="1.25" stroke-linejoin="round"/>
<line x1="76.6" y1="498" x2="91.2" y2="498" stroke="#1c1c1c" stroke-width="1"/>
<text x="98.6" y="500.5" font-size="9.8" fill="#111" stroke="#111" stroke-width="0.18">1<tspan font-size="6.4" dy="-3">st</tspan></text>
<text x="114.2" y="500.5" font-size="9.8" text-anchor="start" fill="#111" stroke="#111" stroke-width="0.18" >quartile</text>
<line x1="76.6" y1="508.7" x2="91.2" y2="508.7" stroke="#ee1c25" stroke-width="1"/>
<text x="98.6" y="512.2" font-size="9.8" fill="#111" stroke="#111" stroke-width="0.18">2<tspan font-size="6.4" dy="-3">nd</tspan></text>
<text x="114.2" y="512.2" font-size="9.8" text-anchor="start" fill="#111" stroke="#111" stroke-width="0.18" >quartile</text>
<line x1="76.6" y1="520.3" x2="91.2" y2="520.3" stroke="#12a84b" stroke-width="1"/>
<text x="98.6" y="523.9" font-size="9.8" fill="#111" stroke="#111" stroke-width="0.18">3<tspan font-size="6.4" dy="-3">rd</tspan></text>
<text x="114.2" y="523.9" font-size="9.8" text-anchor="start" fill="#111" stroke="#111" stroke-width="0.18" >quartile</text>
<line x1="76.6" y1="532.5" x2="91.2" y2="532.5" stroke="#3b80d8" stroke-width="1"/>
<text x="98.6" y="535.6" font-size="9.8" fill="#111" stroke="#111" stroke-width="0.18">4<tspan font-size="6.4" dy="-3">th</tspan></text>
<text x="114.2" y="535.6" font-size="9.8" text-anchor="start" fill="#111" stroke="#111" stroke-width="0.18" >quartile</text>
<text x="136.2" y="561.7" font-size="9.8" fill="#111" stroke="#111" stroke-width="0.18">Log-rank test,<tspan font-style="italic" dx="1.5">P</tspan><tspan dx="1.2">=</tspan><tspan dx="1.2">0.012</tspan></text>
<text x="60.8" y="591" font-size="8.8" text-anchor="middle" fill="#222" stroke="#222" stroke-width="0.18" >0</text>
<text x="103.3" y="590.8" font-size="8.8" text-anchor="middle" fill="#222" stroke="#222" stroke-width="0.18" >3</text>
<text x="148.3" y="590.8" font-size="8.8" text-anchor="middle" fill="#222" stroke="#222" stroke-width="0.18" >6</text>
<text x="194.8" y="589.7" font-size="8.8" text-anchor="middle" fill="#222" stroke="#222" stroke-width="0.18" >9</text>
<text x="241.1" y="590.7" font-size="8.8" text-anchor="middle" fill="#222" stroke="#222" stroke-width="0.18" >12</text>
<text x="161" y="610.4" font-size="9.8" text-anchor="middle" fill="#111" stroke="#111" stroke-width="0.18" >Follow-up (month)</text>
<text x="37.7" y="618.5" font-size="7" text-anchor="start" fill="#222" stroke="#222" stroke-width="0.18" >Number at risk</text>
<text x="21.3" y="630.3" font-size="5.6" fill="#222" stroke="#222" stroke-width="0.18">1<tspan font-size="3.6" dy="-1.8">st</tspan><tspan dy="1.8" dx="1.2">quartile</tspan></text>
<text x="62" y="631.1" font-size="7.2" text-anchor="middle" fill="#222" stroke="#222" stroke-width="0.18" >379</text>
<text x="106" y="631.1" font-size="7.2" text-anchor="middle" fill="#222" stroke="#222" stroke-width="0.18" >260</text>
<text x="149.6" y="631.1" font-size="7.2" text-anchor="middle" fill="#222" stroke="#222" stroke-width="0.18" >207</text>
<text x="195.8" y="631.1" font-size="7.2" text-anchor="middle" fill="#222" stroke="#222" stroke-width="0.18" >181</text>
<text x="239.8" y="631.1" font-size="7.2" text-anchor="middle" fill="#222" stroke="#222" stroke-width="0.18" >160</text>
<text x="21.3" y="643.7" font-size="5.6" fill="#222" stroke="#222" stroke-width="0.18">2<tspan font-size="3.6" dy="-1.8">nd</tspan><tspan dy="1.8" dx="1.2">quartile</tspan></text>
<text x="62" y="644.5" font-size="7.2" text-anchor="middle" fill="#222" stroke="#222" stroke-width="0.18" >384</text>
<text x="106" y="644.5" font-size="7.2" text-anchor="middle" fill="#222" stroke="#222" stroke-width="0.18" >280</text>
<text x="149.6" y="644.5" font-size="7.2" text-anchor="middle" fill="#222" stroke="#222" stroke-width="0.18" >233</text>
<text x="195.8" y="644.5" font-size="7.2" text-anchor="middle" fill="#222" stroke="#222" stroke-width="0.18" >192</text>
<text x="239.8" y="644.5" font-size="7.2" text-anchor="middle" fill="#222" stroke="#222" stroke-width="0.18" >167</text>
<text x="21.3" y="657.1" font-size="5.6" fill="#222" stroke="#222" stroke-width="0.18">3<tspan font-size="3.6" dy="-1.8">rd</tspan><tspan dy="1.8" dx="1.2">quartile</tspan></text>
<text x="62" y="657.9" font-size="7.2" text-anchor="middle" fill="#222" stroke="#222" stroke-width="0.18" >381</text>
<text x="106" y="657.9" font-size="7.2" text-anchor="middle" fill="#222" stroke="#222" stroke-width="0.18" >282</text>
<text x="149.6" y="657.9" font-size="7.2" text-anchor="middle" fill="#222" stroke="#222" stroke-width="0.18" >237</text>
<text x="195.8" y="657.9" font-size="7.2" text-anchor="middle" fill="#222" stroke="#222" stroke-width="0.18" >210</text>
<text x="239.8" y="657.9" font-size="7.2" text-anchor="middle" fill="#222" stroke="#222" stroke-width="0.18" >184</text>
<text x="21.3" y="669.4" font-size="5.6" fill="#222" stroke="#222" stroke-width="0.18">4<tspan font-size="3.6" dy="-1.8">th</tspan><tspan dy="1.8" dx="1.2">quartile</tspan></text>
<text x="62" y="670.2" font-size="7.2" text-anchor="middle" fill="#222" stroke="#222" stroke-width="0.18" >383</text>
<text x="106" y="670.2" font-size="7.2" text-anchor="middle" fill="#222" stroke="#222" stroke-width="0.18" >284</text>
<text x="149.6" y="670.2" font-size="7.2" text-anchor="middle" fill="#222" stroke="#222" stroke-width="0.18" >232</text>
<text x="195.8" y="670.2" font-size="7.2" text-anchor="middle" fill="#222" stroke="#222" stroke-width="0.18" >207</text>
<text x="239.8" y="670.2" font-size="7.2" text-anchor="middle" fill="#222" stroke="#222" stroke-width="0.18" >189</text>
<text x="260.3" y="383.8" font-size="17.6" text-anchor="start" fill="#111" stroke="#111" stroke-width="0.18" >B</text>
<text x="269" y="407.4" font-size="14.8" text-anchor="start" fill="#111" stroke="#111" stroke-width="0.18" >Sinus rhythm group</text>
<line x1="290.9" y1="420.1" x2="290.9" y2="576.2" stroke="#9c9c9c" stroke-width="1.3"/>
<line x1="290.29999999999995" y1="576.2" x2="486.7" y2="576.2" stroke="#787878" stroke-width="1"/>
<line x1="287.5" y1="425.6" x2="290.9" y2="425.6" stroke="#9c9c9c" stroke-width="1"/>
<text x="283.2" y="428.9" font-size="8.8" text-anchor="end" fill="#222" stroke="#222" stroke-width="0.18" >100</text>
<line x1="287.5" y1="454.68" x2="290.9" y2="454.68" stroke="#9c9c9c" stroke-width="1"/>
<text x="283.2" y="457.98" font-size="8.8" text-anchor="end" fill="#222" stroke="#222" stroke-width="0.18" >80</text>
<line x1="287.5" y1="483.76" x2="290.9" y2="483.76" stroke="#9c9c9c" stroke-width="1"/>
<text x="283.2" y="487.06" font-size="8.8" text-anchor="end" fill="#222" stroke="#222" stroke-width="0.18" >60</text>
<line x1="287.5" y1="512.84" x2="290.9" y2="512.84" stroke="#9c9c9c" stroke-width="1"/>
<text x="283.2" y="516.14" font-size="8.8" text-anchor="end" fill="#222" stroke="#222" stroke-width="0.18" >40</text>
<line x1="287.5" y1="541.92" x2="290.9" y2="541.92" stroke="#9c9c9c" stroke-width="1"/>
<text x="283.2" y="545.22" font-size="8.8" text-anchor="end" fill="#222" stroke="#222" stroke-width="0.18" >20</text>
<line x1="287.5" y1="571.0" x2="290.9" y2="571.0" stroke="#9c9c9c" stroke-width="1"/>
<text x="283.2" y="574.3" font-size="8.8" text-anchor="end" fill="#222" stroke="#222" stroke-width="0.18" >0</text>
<text transform="translate(262,492.2) rotate(-90)" font-size="9.9" text-anchor="middle" fill="#111" stroke="#111" stroke-width="0.18">Event-free survival (%)</text>
<path d="M290.9,425.3 L291.92,425.3 L291.92,426.8 L292.93,426.8 L293.95,426.8 L293.95,428.3 L294.97,428.3 L295.98,428.3 L295.98,429.8 L297.0,429.8 L297.58,429.8 L297.58,432.17 L298.17,432.17 L298.75,432.17 L298.75,434.53 L299.33,434.53 L299.92,434.53 L299.92,436.9 L300.5,436.9 L301.73,436.9 L301.73,437.6 L302.95,437.6 L304.17,437.6 L304.17,438.3 L305.4,438.3 L306.65,438.3 L306.65,439.35 L307.9,439.35 L309.15,439.35 L309.15,440.4 L310.4,440.4 L311.27,440.4 L311.27,442.55 L312.15,442.55 L313.02,442.55 L313.02,444.7 L313.9,444.7 L314.97,444.7 L314.97,444.9 L316.05,444.9 L317.12,444.9 L317.12,445.1 L318.2,445.1 L319.6,445.1 L319.6,447.5 L321.0,447.5 L322.4,447.5 L322.4,448.55 L323.8,448.55 L325.2,448.55 L325.2,449.6 L326.6,449.6 L328.03,449.6 L328.03,451.4 L329.45,451.4 L330.88,451.4 L330.88,453.2 L332.3,453.2 L333.36,453.2 L333.36,454.07 L334.43,454.07 L335.49,454.07 L335.49,454.95 L336.55,454.95 L337.61,454.95 L337.61,455.82 L338.68,455.82 L339.74,455.82 L339.74,456.7 L340.8,456.7 L342.2,456.7 L342.2,460.2 L343.6,460.2 L347.85,460.2 L347.85,460.5 L352.1,460.5 L353.15,460.5 L353.15,461.9 L354.2,461.9 L355.25,461.9 L355.25,463.3 L356.3,463.3 L357.36,463.3 L357.36,463.52 L358.43,463.52 L359.49,463.52 L359.49,463.75 L360.55,463.75 L361.61,463.75 L361.61,463.98 L362.68,463.98 L363.74,463.98 L363.74,464.2 L364.8,464.2 L365.86,464.2 L365.86,464.32 L366.93,464.32 L367.99,464.32 L367.99,464.45 L369.05,464.45 L370.11,464.45 L370.11,464.57 L371.18,464.57 L372.24,464.57 L372.24,464.7 L373.3,464.7 L374.47,464.7 L374.47,465.57 L375.63,465.57 L376.8,465.57 L376.8,466.43 L377.97,466.43 L379.13,466.43 L379.13,467.3 L380.3,467.3 L381.27,467.3 L381.27,469.0 L382.25,469.0 L383.23,469.0 L383.23,470.7 L384.2,470.7 L396.25,470.7 L396.25,470.7 L408.3,470.7 L409.35,470.7 L409.35,472.5 L410.4,472.5 L411.45,472.5 L411.45,472.73 L412.5,472.73 L413.55,472.73 L413.55,472.97 L414.6,472.97 L415.65,472.97 L415.65,473.2 L416.7,473.2 L417.78,473.2 L417.78,474.1 L418.85,474.1 L419.93,474.1 L419.93,475.0 L421.0,475.0 L422.4,475.0 L422.4,475.3 L423.8,475.3 L425.2,475.3 L425.2,475.6 L426.6,475.6 L428.03,475.6 L428.03,476.55 L429.45,476.55 L430.88,476.55 L430.88,477.5 L432.3,477.5 L433.59,477.5 L433.59,477.62 L434.88,477.62 L436.18,477.62 L436.18,477.73 L437.47,477.73 L438.76,477.73 L438.76,477.85 L440.05,477.85 L441.34,477.85 L441.34,477.97 L442.63,477.97 L443.93,477.97 L443.93,478.08 L445.22,478.08 L446.51,478.08 L446.51,478.2 L447.8,478.2 L449.22,478.2 L449.22,479.6 L450.65,479.6 L452.07,479.6 L452.07,481.0 L453.5,481.0 L454.68,481.0 L454.68,481.33 L455.87,481.33 L457.05,481.33 L457.05,481.67 L458.23,481.67 L459.42,481.67 L459.42,482.0 L460.6,482.0 L461.65,482.0 L461.65,484.2 L462.7,484.2 L468.7,484.2 L468.7,484.5 L474.7,484.5 L475.92,484.5 L475.92,485.0 L477.15,485.0 L478.38,485.0 L478.38,485.5 L479.6,485.5" fill="none" stroke="#1c1c1c" stroke-width="1.25" stroke-linejoin="round"/>
<path d="M290.9,425.3 L292.15,425.3 L292.15,426.57 L293.4,426.57 L294.65,426.57 L294.65,427.83 L295.9,427.83 L297.15,427.83 L297.15,429.1 L298.4,429.1 L299.45,429.1 L299.45,430.53 L300.5,430.53 L301.55,430.53 L301.55,431.97 L302.6,431.97 L303.65,431.97 L303.65,433.4 L304.7,433.4 L306.12,433.4 L306.12,434.45 L307.55,434.45 L308.97,434.45 L308.97,435.5 L310.4,435.5 L311.45,435.5 L311.45,437.25 L312.5,437.25 L313.55,437.25 L313.55,439.0 L314.6,439.0 L315.5,439.0 L315.5,441.85 L316.4,441.85 L317.3,441.85 L317.3,444.7 L318.2,444.7 L319.25,444.7 L319.25,445.75 L320.3,445.75 L321.35,445.75 L321.35,446.8 L322.4,446.8 L323.62,446.8 L323.62,447.85 L324.85,447.85 L326.07,447.85 L326.07,448.9 L327.3,448.9 L328.4,448.9 L328.4,450.6 L329.5,450.6 L332.65,450.6 L332.65,450.6 L335.8,450.6 L337.6,450.6 L337.6,453.2 L339.4,453.2 L340.62,453.2 L340.62,453.9 L341.85,453.9 L343.07,453.9 L343.07,454.6 L344.3,454.6 L345.52,454.6 L345.52,455.3 L346.75,455.3 L347.97,455.3 L347.97,456.0 L349.2,456.0 L350.62,456.0 L350.62,457.55 L352.05,457.55 L353.47,457.55 L353.47,459.1 L354.9,459.1 L356.32,459.1 L356.32,460.25 L357.75,460.25 L359.18,460.25 L359.18,461.4 L360.6,461.4 L365.5,461.4 L365.5,461.6 L370.4,461.6 L371.47,461.6 L371.47,462.7 L372.55,462.7 L373.62,462.7 L373.62,463.8 L374.7,463.8 L376.03,463.8 L376.03,464.25 L377.35,464.25 L378.68,464.25 L378.68,464.7 L380.0,464.7 L381.07,464.7 L381.07,465.1 L382.13,465.1 L383.2,465.1 L383.2,465.5 L384.27,465.5 L385.33,465.5 L385.33,465.9 L386.4,465.9 L387.62,465.9 L387.62,467.65 L388.85,467.65 L390.07,467.65 L390.07,469.4 L391.3,469.4 L404.75,469.4 L404.75,469.7 L418.2,469.7 L419.25,469.7 L419.25,471.1 L420.3,471.1 L421.35,471.1 L421.35,472.5 L422.4,472.5 L423.8,472.5 L423.8,473.35 L425.2,473.35 L426.6,473.35 L426.6,474.2 L428.0,474.2 L429.24,474.2 L429.24,474.3 L430.48,474.3 L431.71,474.3 L431.71,474.4 L432.95,474.4 L434.19,474.4 L434.19,474.5 L435.42,474.5 L436.66,474.5 L436.66,474.6 L437.9,474.6 L439.03,474.6 L439.03,474.88 L440.16,474.88 L441.29,474.88 L441.29,475.16 L442.42,475.16 L443.55,475.16 L443.55,475.44 L444.68,475.44 L445.81,475.44 L445.81,475.72 L446.94,475.72 L448.07,475.72 L448.07,476.0 L449.2,476.0 L450.48,476.0 L450.48,476.14 L451.76,476.14 L453.04,476.14 L453.04,476.28 L454.32,476.28 L455.6,476.28 L455.6,476.42 L456.88,476.42 L458.16,476.42 L458.16,476.56 L459.44,476.56 L460.72,476.56 L460.72,476.7 L462.0,476.7 L463.4,476.7 L463.4,478.4 L464.8,478.4 L465.86,478.4 L465.86,478.52 L466.93,478.52 L467.99,478.52 L467.99,478.65 L469.05,478.65 L470.11,478.65 L470.11,478.77 L471.18,478.77 L472.24,478.77 L472.24,478.9 L473.3,478.9 L474.7,478.9 L474.7,481.0 L476.1,481.0 L477.85,481.0 L477.85,481.3 L479.6,481.3" fill="none" stroke="#ee1c25" stroke-width="1.25" stroke-linejoin="round"/>
<path d="M290.9,425.3 L292.15,425.3 L292.15,426.1 L293.4,426.1 L294.65,426.1 L294.65,426.9 L295.9,426.9 L297.15,426.9 L297.15,427.7 L298.4,427.7 L299.62,427.7 L299.62,428.25 L300.85,428.25 L302.07,428.25 L302.07,428.8 L303.3,428.8 L304.37,428.8 L304.37,430.57 L305.43,430.57 L306.5,430.57 L306.5,432.33 L307.57,432.33 L308.63,432.33 L308.63,434.1 L309.7,434.1 L310.97,434.1 L310.97,434.24 L312.24,434.24 L313.51,434.24 L313.51,434.38 L314.78,434.38 L316.05,434.38 L316.05,434.52 L317.32,434.52 L318.59,434.52 L318.59,434.66 L319.86,434.66 L321.13,434.66 L321.13,434.8 L322.4,434.8 L323.8,434.8 L323.8,437.25 L325.2,437.25 L326.6,437.25 L326.6,439.7 L328.0,439.7 L329.43,439.7 L329.43,440.75 L330.85,440.75 L332.27,440.75 L332.27,441.8 L333.7,441.8 L334.75,441.8 L334.75,443.6 L335.8,443.6 L336.85,443.6 L336.85,445.4 L337.9,445.4 L339.32,445.4 L339.32,446.1 L340.75,446.1 L342.18,446.1 L342.18,446.8 L343.6,446.8 L345.0,446.8 L345.0,448.2 L346.4,448.2 L347.8,448.2 L347.8,449.6 L349.2,449.6 L350.62,449.6 L350.62,450.3 L352.05,450.3 L353.47,450.3 L353.47,451.0 L354.9,451.0 L356.14,451.0 L356.14,451.48 L357.38,451.48 L358.61,451.48 L358.61,451.95 L359.85,451.95 L361.09,451.95 L361.09,452.42 L362.32,452.42 L363.56,452.42 L363.56,452.9 L364.8,452.9 L365.98,452.9 L365.98,453.47 L367.17,453.47 L368.35,453.47 L368.35,454.03 L369.53,454.03 L370.72,454.03 L370.72,454.6 L371.9,454.6 L373.07,454.6 L373.07,454.83 L374.23,454.83 L375.4,454.83 L375.4,455.07 L376.57,455.07 L377.73,455.07 L377.73,455.3 L378.9,455.3 L379.88,455.3 L379.88,456.5 L380.85,456.5 L381.82,456.5 L381.82,457.7 L382.8,457.7 L383.86,457.7 L383.86,458.05 L384.93,458.05 L385.99,458.05 L385.99,458.4 L387.05,458.4 L388.11,458.4 L388.11,458.75 L389.18,458.75 L390.24,458.75 L390.24,459.1 L391.3,459.1 L392.54,459.1 L392.54,459.28 L393.77,459.28 L395.01,459.28 L395.01,459.45 L396.25,459.45 L397.49,459.45 L397.49,459.62 L398.73,459.62 L399.96,459.62 L399.96,459.8 L401.2,459.8 L402.25,459.8 L402.25,461.2 L403.3,461.2 L408.6,461.2 L408.6,461.2 L413.9,461.2 L414.95,461.2 L414.95,462.6 L416.0,462.6 L423.8,462.6 L423.8,462.9 L431.6,462.9 L433.35,462.9 L433.35,465.4 L435.1,465.4 L436.26,465.4 L436.26,465.44 L437.42,465.44 L438.58,465.44 L438.58,465.47 L439.74,465.47 L440.9,465.47 L440.9,465.51 L442.06,465.51 L443.23,465.51 L443.23,465.54 L444.39,465.54 L445.55,465.54 L445.55,465.58 L446.71,465.58 L447.87,465.58 L447.87,465.61 L449.03,465.61 L450.19,465.61 L450.19,465.65 L451.35,465.65 L452.51,465.65 L452.51,465.69 L453.67,465.69 L454.83,465.69 L454.83,465.72 L455.99,465.72 L457.15,465.72 L457.15,465.76 L458.31,465.76 L459.48,465.76 L459.48,465.79 L460.64,465.79 L461.8,465.79 L461.8,465.83 L462.96,465.83 L464.12,465.83 L464.12,465.86 L465.28,465.86 L466.44,465.86 L466.44,465.9 L467.6,465.9 L468.68,465.9 L468.68,466.5 L469.75,466.5 L470.82,466.5 L470.82,467.1 L471.9,467.1 L473.3,467.1 L473.3,467.35 L474.7,467.35 L476.1,467.35 L476.1,467.6 L477.5,467.6 L478.55,467.6 L478.55,469.3 L479.6,469.3" fill="none" stroke="#12a84b" stroke-width="1.25" stroke-linejoin="round"/>
<path d="M290.9,425.3 L292.01,425.3 L292.01,426.07 L293.12,426.07 L294.24,426.07 L294.24,426.85 L295.35,426.85 L296.46,426.85 L296.46,427.62 L297.57,427.62 L298.69,427.62 L298.69,428.4 L299.8,428.4 L300.86,428.4 L300.86,428.88 L301.93,428.88 L302.99,428.88 L302.99,429.35 L304.05,429.35 L305.11,429.35 L305.11,429.82 L306.18,429.82 L307.24,429.82 L307.24,430.3 L308.3,430.3 L309.35,430.3 L309.35,431.85 L310.4,431.85 L311.45,431.85 L311.45,433.4 L312.5,433.4 L313.93,433.4 L313.93,434.1 L315.35,434.1 L316.77,434.1 L316.77,434.8 L318.2,434.8 L319.6,434.8 L319.6,437.25 L321.0,437.25 L322.4,437.25 L322.4,439.7 L323.8,439.7 L325.22,439.7 L325.22,440.75 L326.65,440.75 L328.07,440.75 L328.07,441.8 L329.5,441.8 L331.25,441.8 L331.25,445.4 L333.0,445.4 L334.75,445.4 L334.75,447.2 L336.5,447.2 L338.65,447.2 L338.65,447.5 L340.8,447.5 L341.85,447.5 L341.85,448.9 L342.9,448.9 L343.95,448.9 L343.95,450.3 L345.0,450.3 L346.13,450.3 L346.13,450.72 L347.26,450.72 L348.39,450.72 L348.39,451.14 L349.52,451.14 L350.65,451.14 L350.65,451.56 L351.78,451.56 L352.91,451.56 L352.91,451.98 L354.04,451.98 L355.17,451.98 L355.17,452.4 L356.3,452.4 L360.55,452.4 L360.55,452.4 L364.8,452.4 L365.86,452.4 L365.86,452.95 L366.93,452.95 L367.99,452.95 L367.99,453.5 L369.05,453.5 L370.11,453.5 L370.11,454.05 L371.18,454.05 L372.24,454.05 L372.24,454.6 L373.3,454.6 L374.47,454.6 L374.47,456.57 L375.63,456.57 L376.8,456.57 L376.8,458.53 L377.97,458.53 L379.13,458.53 L379.13,460.5 L380.3,460.5 L381.65,460.5 L381.65,460.7 L383.0,460.7 L384.35,460.7 L384.35,460.9 L385.7,460.9 L386.75,460.9 L386.75,462.1 L387.8,462.1 L388.85,462.1 L388.85,463.3 L389.9,463.3 L391.14,463.3 L391.14,463.48 L392.38,463.48 L393.61,463.48 L393.61,463.65 L394.85,463.65 L396.09,463.65 L396.09,463.82 L397.32,463.82 L398.56,463.82 L398.56,464.0 L399.8,464.0 L401.07,464.0 L401.07,464.24 L402.34,464.24 L403.61,464.24 L403.61,464.48 L404.88,464.48 L406.15,464.48 L406.15,464.72 L407.42,464.72 L408.69,464.72 L408.69,464.96 L409.96,464.96 L411.23,464.96 L411.23,465.2 L412.5,465.2 L413.55,465.2 L413.55,465.8 L414.6,465.8 L415.65,465.8 L415.65,466.4 L416.7,466.4 L430.85,466.4 L430.85,466.4 L445.0,466.4 L446.06,466.4 L446.06,466.88 L447.12,466.88 L448.19,466.88 L448.19,467.35 L449.25,467.35 L450.31,467.35 L450.31,467.82 L451.38,467.82 L452.44,467.82 L452.44,468.3 L453.5,468.3 L458.45,468.3 L458.45,468.5 L463.4,468.5 L464.46,468.5 L464.46,468.8 L465.52,468.8 L466.59,468.8 L466.59,469.1 L467.65,469.1 L468.71,469.1 L468.71,469.4 L469.77,469.4 L470.84,469.4 L470.84,469.7 L471.9,469.7 L475.75,469.7 L475.75,469.7 L479.6,469.7" fill="none" stroke="#3b80d8" stroke-width="1.25" stroke-linejoin="round"/>
<line x1="313.8" y1="497.5" x2="327.9" y2="497.5" stroke="#1c1c1c" stroke-width="1"/>
<text x="335.1" y="500.3" font-size="9.8" fill="#111" stroke="#111" stroke-width="0.18">1<tspan font-size="6.4" dy="-3">st</tspan></text>
<text x="350.7" y="500.3" font-size="9.8" text-anchor="start" fill="#111" stroke="#111" stroke-width="0.18" >quartile</text>
<line x1="313.8" y1="508.7" x2="327.9" y2="508.7" stroke="#ee1c25" stroke-width="1"/>
<text x="335.1" y="512.0" font-size="9.8" fill="#111" stroke="#111" stroke-width="0.18">2<tspan font-size="6.4" dy="-3">nd</tspan></text>
<text x="350.7" y="512.0" font-size="9.8" text-anchor="start" fill="#111" stroke="#111" stroke-width="0.18" >quartile</text>
<line x1="313.8" y1="520" x2="327.9" y2="520" stroke="#12a84b" stroke-width="1"/>
<text x="335.1" y="523.7" font-size="9.8" fill="#111" stroke="#111" stroke-width="0.18">3<tspan font-size="6.4" dy="-3">rd</tspan></text>
<text x="350.7" y="523.7" font-size="9.8" text-anchor="start" fill="#111" stroke="#111" stroke-width="0.18" >quartile</text>
<line x1="313.8" y1="532.5" x2="327.9" y2="532.5" stroke="#3b80d8" stroke-width="1"/>
<text x="335.1" y="535.4" font-size="9.8" fill="#111" stroke="#111" stroke-width="0.18">4<tspan font-size="6.4" dy="-3">th</tspan></text>
<text x="350.7" y="535.4" font-size="9.8" text-anchor="start" fill="#111" stroke="#111" stroke-width="0.18" >quartile</text>
<text x="374.1" y="561.2" font-size="9.8" fill="#111" stroke="#111" stroke-width="0.18">Log-rank test,<tspan font-style="italic" dx="1.5">P</tspan><tspan dx="1.2">=</tspan><tspan dx="1.2">0.024</tspan></text>
<text x="298.5" y="590.8" font-size="8.8" text-anchor="middle" fill="#222" stroke="#222" stroke-width="0.18" >0</text>
<text x="338.8" y="591.5" font-size="8.8" text-anchor="middle" fill="#222" stroke="#222" stroke-width="0.18" >3</text>
<text x="386.2" y="591.1" font-size="8.8" text-anchor="middle" fill="#222" stroke="#222" stroke-width="0.18" >6</text>
<text x="432.8" y="591.1" font-size="8.8" text-anchor="middle" fill="#222" stroke="#222" stroke-width="0.18" >9</text>
<text x="479.2" y="591.6" font-size="8.8" text-anchor="middle" fill="#222" stroke="#222" stroke-width="0.18" >12</text>
<text x="398.2" y="609.6" font-size="9.8" text-anchor="middle" fill="#111" stroke="#111" stroke-width="0.18" >Follow-up (month)</text>
<text x="275" y="617.9" font-size="7" text-anchor="start" fill="#222" stroke="#222" stroke-width="0.18" >Number at risk</text>
<text x="261.3" y="629.5" font-size="5.6" fill="#222" stroke="#222" stroke-width="0.18">1<tspan font-size="3.6" dy="-1.8">st</tspan><tspan dy="1.8" dx="1.2">quartile</tspan></text>
<text x="299.3" y="630.3" font-size="7.2" text-anchor="middle" fill="#222" stroke="#222" stroke-width="0.18" >239</text>
<text x="343.3" y="630.3" font-size="7.2" text-anchor="middle" fill="#222" stroke="#222" stroke-width="0.18" >163</text>
<text x="387.2" y="630.3" font-size="7.2" text-anchor="middle" fill="#222" stroke="#222" stroke-width="0.18" >133</text>
<text x="433" y="630.3" font-size="7.2" text-anchor="middle" fill="#222" stroke="#222" stroke-width="0.18" >119</text>
<text x="478.3" y="630.3" font-size="7.2" text-anchor="middle" fill="#222" stroke="#222" stroke-width="0.18" >106</text>
<text x="261.3" y="643.0" font-size="5.6" fill="#222" stroke="#222" stroke-width="0.18">2<tspan font-size="3.6" dy="-1.8">nd</tspan><tspan dy="1.8" dx="1.2">quartile</tspan></text>
<text x="299.3" y="643.8" font-size="7.2" text-anchor="middle" fill="#222" stroke="#222" stroke-width="0.18" >242</text>
<text x="343.3" y="643.8" font-size="7.2" text-anchor="middle" fill="#222" stroke="#222" stroke-width="0.18" >173</text>
<text x="387.2" y="643.8" font-size="7.2" text-anchor="middle" fill="#222" stroke="#222" stroke-width="0.18" >146</text>
<text x="433" y="643.8" font-size="7.2" text-anchor="middle" fill="#222" stroke="#222" stroke-width="0.18" >128</text>
<text x="478.3" y="643.8" font-size="7.2" text-anchor="middle" fill="#222" stroke="#222" stroke-width="0.18" >109</text>
<text x="261.3" y="655.8" font-size="5.6" fill="#222" stroke="#222" stroke-width="0.18">3<tspan font-size="3.6" dy="-1.8">rd</tspan><tspan dy="1.8" dx="1.2">quartile</tspan></text>
<text x="299.3" y="656.6" font-size="7.2" text-anchor="middle" fill="#222" stroke="#222" stroke-width="0.18" >238</text>
<text x="343.3" y="656.6" font-size="7.2" text-anchor="middle" fill="#222" stroke="#222" stroke-width="0.18" >185</text>
<text x="387.2" y="656.6" font-size="7.2" text-anchor="middle" fill="#222" stroke="#222" stroke-width="0.18" >151</text>
<text x="433" y="656.6" font-size="7.2" text-anchor="middle" fill="#222" stroke="#222" stroke-width="0.18" >140</text>
<text x="478.3" y="656.6" font-size="7.2" text-anchor="middle" fill="#222" stroke="#222" stroke-width="0.18" >119</text>
<text x="261.3" y="668.7" font-size="5.6" fill="#222" stroke="#222" stroke-width="0.18">4<tspan font-size="3.6" dy="-1.8">th</tspan><tspan dy="1.8" dx="1.2">quartile</tspan></text>
<text x="299.3" y="669.5" font-size="7.2" text-anchor="middle" fill="#222" stroke="#222" stroke-width="0.18" >243</text>
<text x="343.3" y="669.5" font-size="7.2" text-anchor="middle" fill="#222" stroke="#222" stroke-width="0.18" >182</text>
<text x="387.2" y="669.5" font-size="7.2" text-anchor="middle" fill="#222" stroke="#222" stroke-width="0.18" >147</text>
<text x="433" y="669.5" font-size="7.2" text-anchor="middle" fill="#222" stroke="#222" stroke-width="0.18" >133</text>
<text x="478.3" y="669.5" font-size="7.2" text-anchor="middle" fill="#222" stroke="#222" stroke-width="0.18" >119</text>
<text x="495.8" y="384.6" font-size="17.6" text-anchor="start" fill="#111" stroke="#111" stroke-width="0.18" >C</text>
<text x="504.8" y="408.1" font-size="14.8" text-anchor="start" fill="#111" stroke="#111" stroke-width="0.18" >AF group</text>
<line x1="525.7" y1="419.5" x2="525.7" y2="575.4" stroke="#9c9c9c" stroke-width="1.3"/>
<line x1="525.1" y1="575.4" x2="722" y2="575.4" stroke="#787878" stroke-width="1"/>
<line x1="522.3000000000001" y1="425.0" x2="525.7" y2="425.0" stroke="#9c9c9c" stroke-width="1"/>
<text x="518.6" y="428.3" font-size="8.8" text-anchor="end" fill="#222" stroke="#222" stroke-width="0.18" >100</text>
<line x1="522.3000000000001" y1="453.84" x2="525.7" y2="453.84" stroke="#9c9c9c" stroke-width="1"/>
<text x="518.6" y="457.14" font-size="8.8" text-anchor="end" fill="#222" stroke="#222" stroke-width="0.18" >80</text>
<line x1="522.3000000000001" y1="482.68" x2="525.7" y2="482.68" stroke="#9c9c9c" stroke-width="1"/>
<text x="518.6" y="485.98" font-size="8.8" text-anchor="end" fill="#222" stroke="#222" stroke-width="0.18" >60</text>
<line x1="522.3000000000001" y1="511.52" x2="525.7" y2="511.52" stroke="#9c9c9c" stroke-width="1"/>
<text x="518.6" y="514.82" font-size="8.8" text-anchor="end" fill="#222" stroke="#222" stroke-width="0.18" >40</text>
<line x1="522.3000000000001" y1="540.36" x2="525.7" y2="540.36" stroke="#9c9c9c" stroke-width="1"/>
<text x="518.6" y="543.66" font-size="8.8" text-anchor="end" fill="#222" stroke="#222" stroke-width="0.18" >20</text>
<line x1="522.3000000000001" y1="569.2" x2="525.7" y2="569.2" stroke="#9c9c9c" stroke-width="1"/>
<text x="518.6" y="572.5" font-size="8.8" text-anchor="end" fill="#222" stroke="#222" stroke-width="0.18" >0</text>
<text transform="translate(496.5,494.2) rotate(-90)" font-size="9.9" text-anchor="middle" fill="#111" stroke="#111" stroke-width="0.18">Event-free survival (%)</text>
<path d="M525.6,424.9 L526.48,424.9 L526.48,427.35 L527.35,427.35 L528.23,427.35 L528.23,429.8 L529.1,429.8 L530.28,429.8 L530.28,431.0 L531.47,431.0 L532.65,431.0 L532.65,432.2 L533.83,432.2 L535.02,432.2 L535.02,433.4 L536.2,433.4 L537.62,433.4 L537.62,435.5 L539.05,435.5 L540.48,435.5 L540.48,437.6 L541.9,437.6 L545.4,437.6 L545.4,437.6 L548.9,437.6 L549.97,437.6 L549.97,439.75 L551.05,439.75 L552.12,439.75 L552.12,441.9 L553.2,441.9 L554.25,441.9 L554.25,443.3 L555.3,443.3 L556.35,443.3 L556.35,444.7 L557.4,444.7 L558.7,444.7 L558.7,445.4 L560.0,445.4 L561.3,445.4 L561.3,446.1 L562.6,446.1 L563.9,446.1 L563.9,446.8 L565.2,446.8 L565.73,446.8 L565.73,449.65 L566.25,449.65 L566.77,449.65 L566.77,452.5 L567.3,452.5 L568.48,452.5 L568.48,453.67 L569.67,453.67 L570.85,453.67 L570.85,454.83 L572.03,454.83 L573.22,454.83 L573.22,456.0 L574.4,456.0 L575.45,456.0 L575.45,458.1 L576.5,458.1 L577.55,458.1 L577.55,460.2 L578.6,460.2 L580.0,460.2 L580.0,462.0 L581.4,462.0 L582.8,462.0 L582.8,463.8 L584.2,463.8 L585.26,463.8 L585.26,464.15 L586.33,464.15 L587.39,464.15 L587.39,464.5 L588.45,464.5 L589.51,464.5 L589.51,464.85 L590.58,464.85 L591.64,464.85 L591.64,465.2 L592.7,465.2 L593.88,465.2 L593.88,465.9 L595.07,465.9 L596.25,465.9 L596.25,466.6 L597.43,466.6 L598.62,466.6 L598.62,467.3 L599.8,467.3 L600.85,467.3 L600.85,468.55 L601.9,468.55 L602.95,468.55 L602.95,469.8 L604.0,469.8 L605.18,469.8 L605.18,470.0 L606.37,470.0 L607.55,470.0 L607.55,470.2 L608.73,470.2 L609.92,470.2 L609.92,470.4 L611.1,470.4 L612.5,470.4 L612.5,471.5 L613.9,471.5 L619.75,471.5 L619.75,471.4 L625.6,471.4 L626.65,471.4 L626.65,472.9 L627.7,472.9 L631.25,472.9 L631.25,472.9 L634.8,472.9 L636.55,472.9 L636.55,475.3 L638.3,475.3 L661.65,475.3 L661.65,475.3 L685.0,475.3 L686.23,475.3 L686.23,476.85 L687.45,476.85 L688.67,476.85 L688.67,478.4 L689.9,478.4 L691.12,478.4 L691.12,479.9 L692.35,479.9 L693.57,479.9 L693.57,481.4 L694.8,481.4 L702.95,481.4 L702.95,481.4 L711.1,481.4 L712.5,481.4 L712.5,484.1 L713.9,484.1" fill="none" stroke="#1c1c1c" stroke-width="1.25" stroke-linejoin="round"/>
<path d="M525.6,424.9 L527.35,424.9 L527.35,427.0 L529.1,427.0 L530.28,427.0 L530.28,427.33 L531.47,427.33 L532.65,427.33 L532.65,427.67 L533.83,427.67 L535.02,427.67 L535.02,428.0 L536.2,428.0 L537.38,428.0 L537.38,428.83 L538.57,428.83 L539.75,428.83 L539.75,429.67 L540.93,429.67 L542.12,429.67 L542.12,430.5 L543.3,430.5 L544.35,430.5 L544.35,433.1 L545.4,433.1 L546.8,433.1 L546.8,435.7 L548.2,435.7 L549.6,435.7 L549.6,438.3 L551.0,438.3 L552.07,438.3 L552.07,439.73 L553.13,439.73 L554.2,439.73 L554.2,441.17 L555.27,441.17 L556.33,441.17 L556.33,442.6 L557.4,442.6 L558.7,442.6 L558.7,443.07 L560.0,443.07 L561.3,443.07 L561.3,443.53 L562.6,443.53 L563.9,443.53 L563.9,444.0 L565.2,444.0 L565.9,444.0 L565.9,446.4 L566.6,446.4 L567.9,446.4 L567.9,447.23 L569.2,447.23 L570.5,447.23 L570.5,448.07 L571.8,448.07 L573.1,448.07 L573.1,448.9 L574.4,448.9 L575.62,448.9 L575.62,449.55 L576.85,449.55 L578.07,449.55 L578.07,450.2 L579.3,450.2 L580.52,450.2 L580.52,450.85 L581.75,450.85 L582.98,450.85 L582.98,451.5 L584.2,451.5 L585.28,451.5 L585.28,453.05 L586.35,453.05 L587.42,453.05 L587.42,454.6 L588.5,454.6 L590.6,454.6 L590.6,454.9 L592.7,454.9 L593.4,454.9 L593.4,456.7 L594.1,456.7 L596.25,456.7 L596.25,457.0 L598.4,457.0 L599.27,457.0 L599.27,458.95 L600.15,458.95 L601.02,458.95 L601.02,460.9 L601.9,460.9 L603.1,460.9 L603.1,461.18 L604.3,461.18 L605.5,461.18 L605.5,461.46 L606.7,461.46 L607.9,461.46 L607.9,461.74 L609.1,461.74 L610.3,461.74 L610.3,462.02 L611.5,462.02 L612.7,462.02 L612.7,462.3 L613.9,462.3 L614.45,462.3 L614.45,462.9 L615.0,462.9 L616.05,462.9 L616.05,464.15 L617.1,464.15 L618.15,464.15 L618.15,465.4 L619.2,465.4 L620.27,465.4 L620.27,465.57 L621.33,465.57 L622.4,465.57 L622.4,465.73 L623.47,465.73 L624.53,465.73 L624.53,465.9 L625.6,465.9 L626.65,465.9 L626.65,468.15 L627.7,468.15 L628.75,468.15 L628.75,470.4 L629.8,470.4 L631.22,470.4 L631.22,470.6 L632.65,470.6 L634.08,470.6 L634.08,470.8 L635.5,470.8 L636.9,470.8 L636.9,473.6 L638.3,473.6 L640.8,473.6 L640.8,473.6 L643.3,473.6 L644.35,473.6 L644.35,474.6 L645.4,474.6 L649.65,474.6 L649.65,474.6 L653.9,474.6 L655.12,474.6 L655.12,477.3 L656.35,477.3 L657.57,477.3 L657.57,480.0 L658.8,480.0 L660.2,480.0 L660.2,481.4 L661.6,481.4 L663.4,481.4 L663.4,481.7 L665.2,481.7 L666.95,481.7 L666.95,484.1 L668.7,484.1 L679.65,484.1 L679.65,484.1 L690.6,484.1 L691.3,484.1 L691.3,485.5 L692.0,485.5 L701.55,485.5 L701.55,485.5 L711.1,485.5 L712.5,485.5 L712.5,487.3 L713.9,487.3" fill="none" stroke="#ee1c25" stroke-width="1.25" stroke-linejoin="round"/>
<path d="M525.6,424.9 L527.35,424.9 L527.35,428.4 L529.1,428.4 L530.28,428.4 L530.28,429.6 L531.47,429.6 L532.65,429.6 L532.65,430.8 L533.83,430.8 L535.02,430.8 L535.02,432.0 L536.2,432.0 L537.62,432.0 L537.62,434.1 L539.05,434.1 L540.48,434.1 L540.48,436.2 L541.9,436.2 L542.95,436.2 L542.95,438.65 L544.0,438.65 L545.05,438.65 L545.05,441.1 L546.1,441.1 L549.3,441.1 L549.3,441.4 L552.5,441.4 L554.25,441.4 L554.25,444.0 L556.0,444.0 L557.05,444.0 L557.05,445.05 L558.1,445.05 L559.15,445.05 L559.15,446.1 L560.2,446.1 L561.62,446.1 L561.62,446.45 L563.05,446.45 L564.48,446.45 L564.48,446.8 L565.9,446.8 L567.14,446.8 L567.14,447.32 L568.38,447.32 L569.61,447.32 L569.61,447.85 L570.85,447.85 L572.09,447.85 L572.09,448.38 L573.32,448.38 L574.56,448.38 L574.56,448.9 L575.8,448.9 L576.97,448.9 L576.97,450.1 L578.13,450.1 L579.3,450.1 L579.3,451.3 L580.47,451.3 L581.63,451.3 L581.63,452.5 L582.8,452.5 L583.98,452.5 L583.98,454.13 L585.17,454.13 L586.35,454.13 L586.35,455.77 L587.53,455.77 L588.72,455.77 L588.72,457.4 L589.9,457.4 L590.95,457.4 L590.95,459.15 L592.0,459.15 L593.05,459.15 L593.05,460.9 L594.1,460.9 L595.28,460.9 L595.28,460.98 L596.47,460.98 L597.65,460.98 L597.65,461.07 L598.83,461.07 L600.02,461.07 L600.02,461.15 L601.2,461.15 L602.38,461.15 L602.38,461.23 L603.57,461.23 L604.75,461.23 L604.75,461.32 L605.93,461.32 L607.12,461.32 L607.12,461.4 L608.3,461.4 L609.7,461.4 L609.7,462.35 L611.1,462.35 L612.5,462.35 L612.5,463.3 L613.9,463.3 L626.45,463.3 L626.45,463.3 L639.0,463.3 L640.05,463.3 L640.05,465.0 L641.1,465.0 L647.85,465.0 L647.85,465.2 L654.6,465.2 L655.65,465.2 L655.65,466.1 L656.7,466.1 L660.25,466.1 L660.25,466.4 L663.8,466.4 L665.55,466.4 L665.55,468.7 L667.3,468.7 L671.55,468.7 L671.55,468.7 L675.8,468.7 L676.85,468.7 L676.85,469.9 L677.9,469.9 L678.95,469.9 L678.95,471.1 L680.0,471.1 L684.95,471.1 L684.95,471.4 L689.9,471.4 L691.3,471.4 L691.3,472.9 L692.7,472.9 L694.85,472.9 L694.85,473.2 L697.0,473.2 L698.05,473.2 L698.05,474.25 L699.1,474.25 L700.15,474.25 L700.15,475.3 L701.2,475.3 L701.9,475.3 L701.9,477.45 L702.6,477.45 L703.3,477.45 L703.3,479.6 L704.0,479.6 L705.45,479.6 L705.45,481.0 L706.9,481.0 L710.4,481.0 L710.4,481.0 L713.9,481.0" fill="none" stroke="#12a84b" stroke-width="1.25" stroke-linejoin="round"/>
<path d="M525.6,424.9 L526.92,424.9 L526.92,425.07 L528.25,425.07 L529.58,425.07 L529.58,425.25 L530.9,425.25 L532.23,425.25 L532.23,425.43 L533.55,425.43 L534.88,425.43 L534.88,425.6 L536.2,425.6 L537.25,425.6 L537.25,426.65 L538.3,426.65 L539.35,426.65 L539.35,427.7 L540.4,427.7 L541.12,427.7 L541.12,430.55 L541.85,430.55 L542.57,430.55 L542.57,433.4 L543.3,433.4 L547.9,433.4 L547.9,433.7 L552.5,433.7 L554.25,433.7 L554.25,436.2 L556.0,436.2 L557.17,436.2 L557.17,436.9 L558.33,436.9 L559.5,436.9 L559.5,437.6 L560.67,437.6 L561.83,437.6 L561.83,438.3 L563.0,438.3 L564.06,438.3 L564.06,438.4 L565.12,438.4 L566.19,438.4 L566.19,438.5 L567.25,438.5 L568.31,438.5 L568.31,438.6 L569.38,438.6 L570.44,438.6 L570.44,438.7 L571.5,438.7 L572.92,438.7 L572.92,440.3 L574.35,440.3 L575.78,440.3 L575.78,441.9 L577.2,441.9 L582.85,441.9 L582.85,442.1 L588.5,442.1 L589.73,442.1 L589.73,442.7 L590.95,442.7 L592.17,442.7 L592.17,443.3 L593.4,443.3 L594.83,443.3 L594.83,446.3 L596.25,446.3 L597.67,446.3 L597.67,449.3 L599.1,449.3 L600.15,449.3 L600.15,449.73 L601.2,449.73 L602.25,449.73 L602.25,450.17 L603.3,450.17 L604.35,450.17 L604.35,450.6 L605.4,450.6 L616.55,450.6 L616.55,450.6 L627.7,450.6 L628.4,450.6 L628.4,452.4 L629.1,452.4 L634.75,452.4 L634.75,452.4 L640.4,452.4 L641.5,452.4 L641.5,453.7 L642.6,453.7 L646.45,453.7 L646.45,453.7 L650.3,453.7 L651.0,453.7 L651.0,455.8 L651.7,455.8 L653.12,455.8 L653.12,456.75 L654.55,456.75 L655.98,456.75 L655.98,457.7 L657.4,457.7 L660.6,457.7 L660.6,457.7 L663.8,457.7 L664.85,457.7 L664.85,459.1 L665.9,459.1 L669.4,459.1 L669.4,459.4 L672.9,459.4 L673.65,459.4 L673.65,460.8 L674.4,460.8 L680.05,460.8 L680.05,460.8 L685.7,460.8 L686.4,460.8 L686.4,461.6 L687.1,461.6 L697.7,461.6 L697.7,461.6 L708.3,461.6 L709.0,461.6 L709.0,463.0 L709.7,463.0 L711.8,463.0 L711.8,463.3 L713.9,463.3" fill="none" stroke="#3b80d8" stroke-width="1.25" stroke-linejoin="round"/>
<line x1="549.2" y1="498.7" x2="563.2" y2="498.7" stroke="#1c1c1c" stroke-width="1"/>
<text x="571" y="501.2" font-size="9.8" fill="#111" stroke="#111" stroke-width="0.18">1<tspan font-size="6.4" dy="-3">st</tspan></text>
<text x="587.2" y="501.2" font-size="9.8" text-anchor="start" fill="#111" stroke="#111" stroke-width="0.18" >quartile</text>
<line x1="549.2" y1="509.7" x2="563.2" y2="509.7" stroke="#ee1c25" stroke-width="1"/>
<text x="571" y="512.9" font-size="9.8" fill="#111" stroke="#111" stroke-width="0.18">2<tspan font-size="6.4" dy="-3">nd</tspan></text>
<text x="587.2" y="512.9" font-size="9.8" text-anchor="start" fill="#111" stroke="#111" stroke-width="0.18" >quartile</text>
<line x1="549.2" y1="521.2" x2="563.2" y2="521.2" stroke="#12a84b" stroke-width="1"/>
<text x="571" y="524.6" font-size="9.8" fill="#111" stroke="#111" stroke-width="0.18">3<tspan font-size="6.4" dy="-3">rd</tspan></text>
<text x="587.2" y="524.6" font-size="9.8" text-anchor="start" fill="#111" stroke="#111" stroke-width="0.18" >quartile</text>
<line x1="549.2" y1="533.7" x2="563.2" y2="533.7" stroke="#3b80d8" stroke-width="1"/>
<text x="571" y="536.3" font-size="9.8" fill="#111" stroke="#111" stroke-width="0.18">4<tspan font-size="6.4" dy="-3">th</tspan></text>
<text x="587.2" y="536.3" font-size="9.8" text-anchor="start" fill="#111" stroke="#111" stroke-width="0.18" >quartile</text>
<text x="610.3" y="563.2" font-size="9.8" fill="#111" stroke="#111" stroke-width="0.18">Log-rank test,<tspan font-style="italic" dx="1.5">P</tspan><tspan dx="1.2">=</tspan><tspan dx="1.2">0.043</tspan></text>
<text x="532.8" y="591.7" font-size="8.8" text-anchor="middle" fill="#222" stroke="#222" stroke-width="0.18" >0</text>
<text x="573.1" y="591.7" font-size="8.8" text-anchor="middle" fill="#222" stroke="#222" stroke-width="0.18" >3</text>
<text x="620.3" y="591.5" font-size="8.8" text-anchor="middle" fill="#222" stroke="#222" stroke-width="0.18" >6</text>
<text x="667" y="591.5" font-size="8.8" text-anchor="middle" fill="#222" stroke="#222" stroke-width="0.18" >9</text>
<text x="712.7" y="591.5" font-size="8.8" text-anchor="middle" fill="#222" stroke="#222" stroke-width="0.18" >12</text>
<text x="633.3" y="608" font-size="9.8" text-anchor="middle" fill="#111" stroke="#111" stroke-width="0.18" >Follow-up (month)</text>
<text x="509.7" y="616" font-size="7" text-anchor="start" fill="#222" stroke="#222" stroke-width="0.18" >Number at risk</text>
<text x="496.4" y="628.3" font-size="5.6" fill="#222" stroke="#222" stroke-width="0.18">1<tspan font-size="3.6" dy="-1.8">st</tspan><tspan dy="1.8" dx="1.2">quartile</tspan></text>
<text x="534.5" y="629.1" font-size="7.2" text-anchor="middle" fill="#222" stroke="#222" stroke-width="0.18" >139</text>
<text x="574.6" y="629.1" font-size="7.2" text-anchor="middle" fill="#222" stroke="#222" stroke-width="0.18" >97</text>
<text x="620.6" y="629.1" font-size="7.2" text-anchor="middle" fill="#222" stroke="#222" stroke-width="0.18" >71</text>
<text x="667.2" y="629.1" font-size="7.2" text-anchor="middle" fill="#222" stroke="#222" stroke-width="0.18" >64</text>
<text x="711.5" y="629.1" font-size="7.2" text-anchor="middle" fill="#222" stroke="#222" stroke-width="0.18" >55</text>
<text x="496.4" y="641.6" font-size="5.6" fill="#222" stroke="#222" stroke-width="0.18">2<tspan font-size="3.6" dy="-1.8">nd</tspan><tspan dy="1.8" dx="1.2">quartile</tspan></text>
<text x="534.5" y="642.4" font-size="7.2" text-anchor="middle" fill="#222" stroke="#222" stroke-width="0.18" >141</text>
<text x="574.6" y="642.4" font-size="7.2" text-anchor="middle" fill="#222" stroke="#222" stroke-width="0.18" >103</text>
<text x="620.6" y="642.4" font-size="7.2" text-anchor="middle" fill="#222" stroke="#222" stroke-width="0.18" >86</text>
<text x="667.2" y="642.4" font-size="7.2" text-anchor="middle" fill="#222" stroke="#222" stroke-width="0.18" >63</text>
<text x="711.5" y="642.4" font-size="7.2" text-anchor="middle" fill="#222" stroke="#222" stroke-width="0.18" >58</text>
<text x="496.4" y="654.3" font-size="5.6" fill="#222" stroke="#222" stroke-width="0.18">3<tspan font-size="3.6" dy="-1.8">rd</tspan><tspan dy="1.8" dx="1.2">quartile</tspan></text>
<text x="534.5" y="655.1" font-size="7.2" text-anchor="middle" fill="#222" stroke="#222" stroke-width="0.18" >143</text>
<text x="574.6" y="655.1" font-size="7.2" text-anchor="middle" fill="#222" stroke="#222" stroke-width="0.18" >108</text>
<text x="620.6" y="655.1" font-size="7.2" text-anchor="middle" fill="#222" stroke="#222" stroke-width="0.18" >84</text>
<text x="667.2" y="655.1" font-size="7.2" text-anchor="middle" fill="#222" stroke="#222" stroke-width="0.18" >78</text>
<text x="711.5" y="655.1" font-size="7.2" text-anchor="middle" fill="#222" stroke="#222" stroke-width="0.18" >67</text>
<text x="496.4" y="667.6" font-size="5.6" fill="#222" stroke="#222" stroke-width="0.18">4<tspan font-size="3.6" dy="-1.8">th</tspan><tspan dy="1.8" dx="1.2">quartile</tspan></text>
<text x="534.5" y="668.4" font-size="7.2" text-anchor="middle" fill="#222" stroke="#222" stroke-width="0.18" >142</text>
<text x="574.6" y="668.4" font-size="7.2" text-anchor="middle" fill="#222" stroke="#222" stroke-width="0.18" >110</text>
<text x="620.6" y="668.4" font-size="7.2" text-anchor="middle" fill="#222" stroke="#222" stroke-width="0.18" >91</text>
<text x="667.2" y="668.4" font-size="7.2" text-anchor="middle" fill="#222" stroke="#222" stroke-width="0.18" >79</text>
<text x="711.5" y="668.4" font-size="7.2" text-anchor="middle" fill="#222" stroke="#222" stroke-width="0.18" >72</text>
</g>
</svg>
</body></html>
